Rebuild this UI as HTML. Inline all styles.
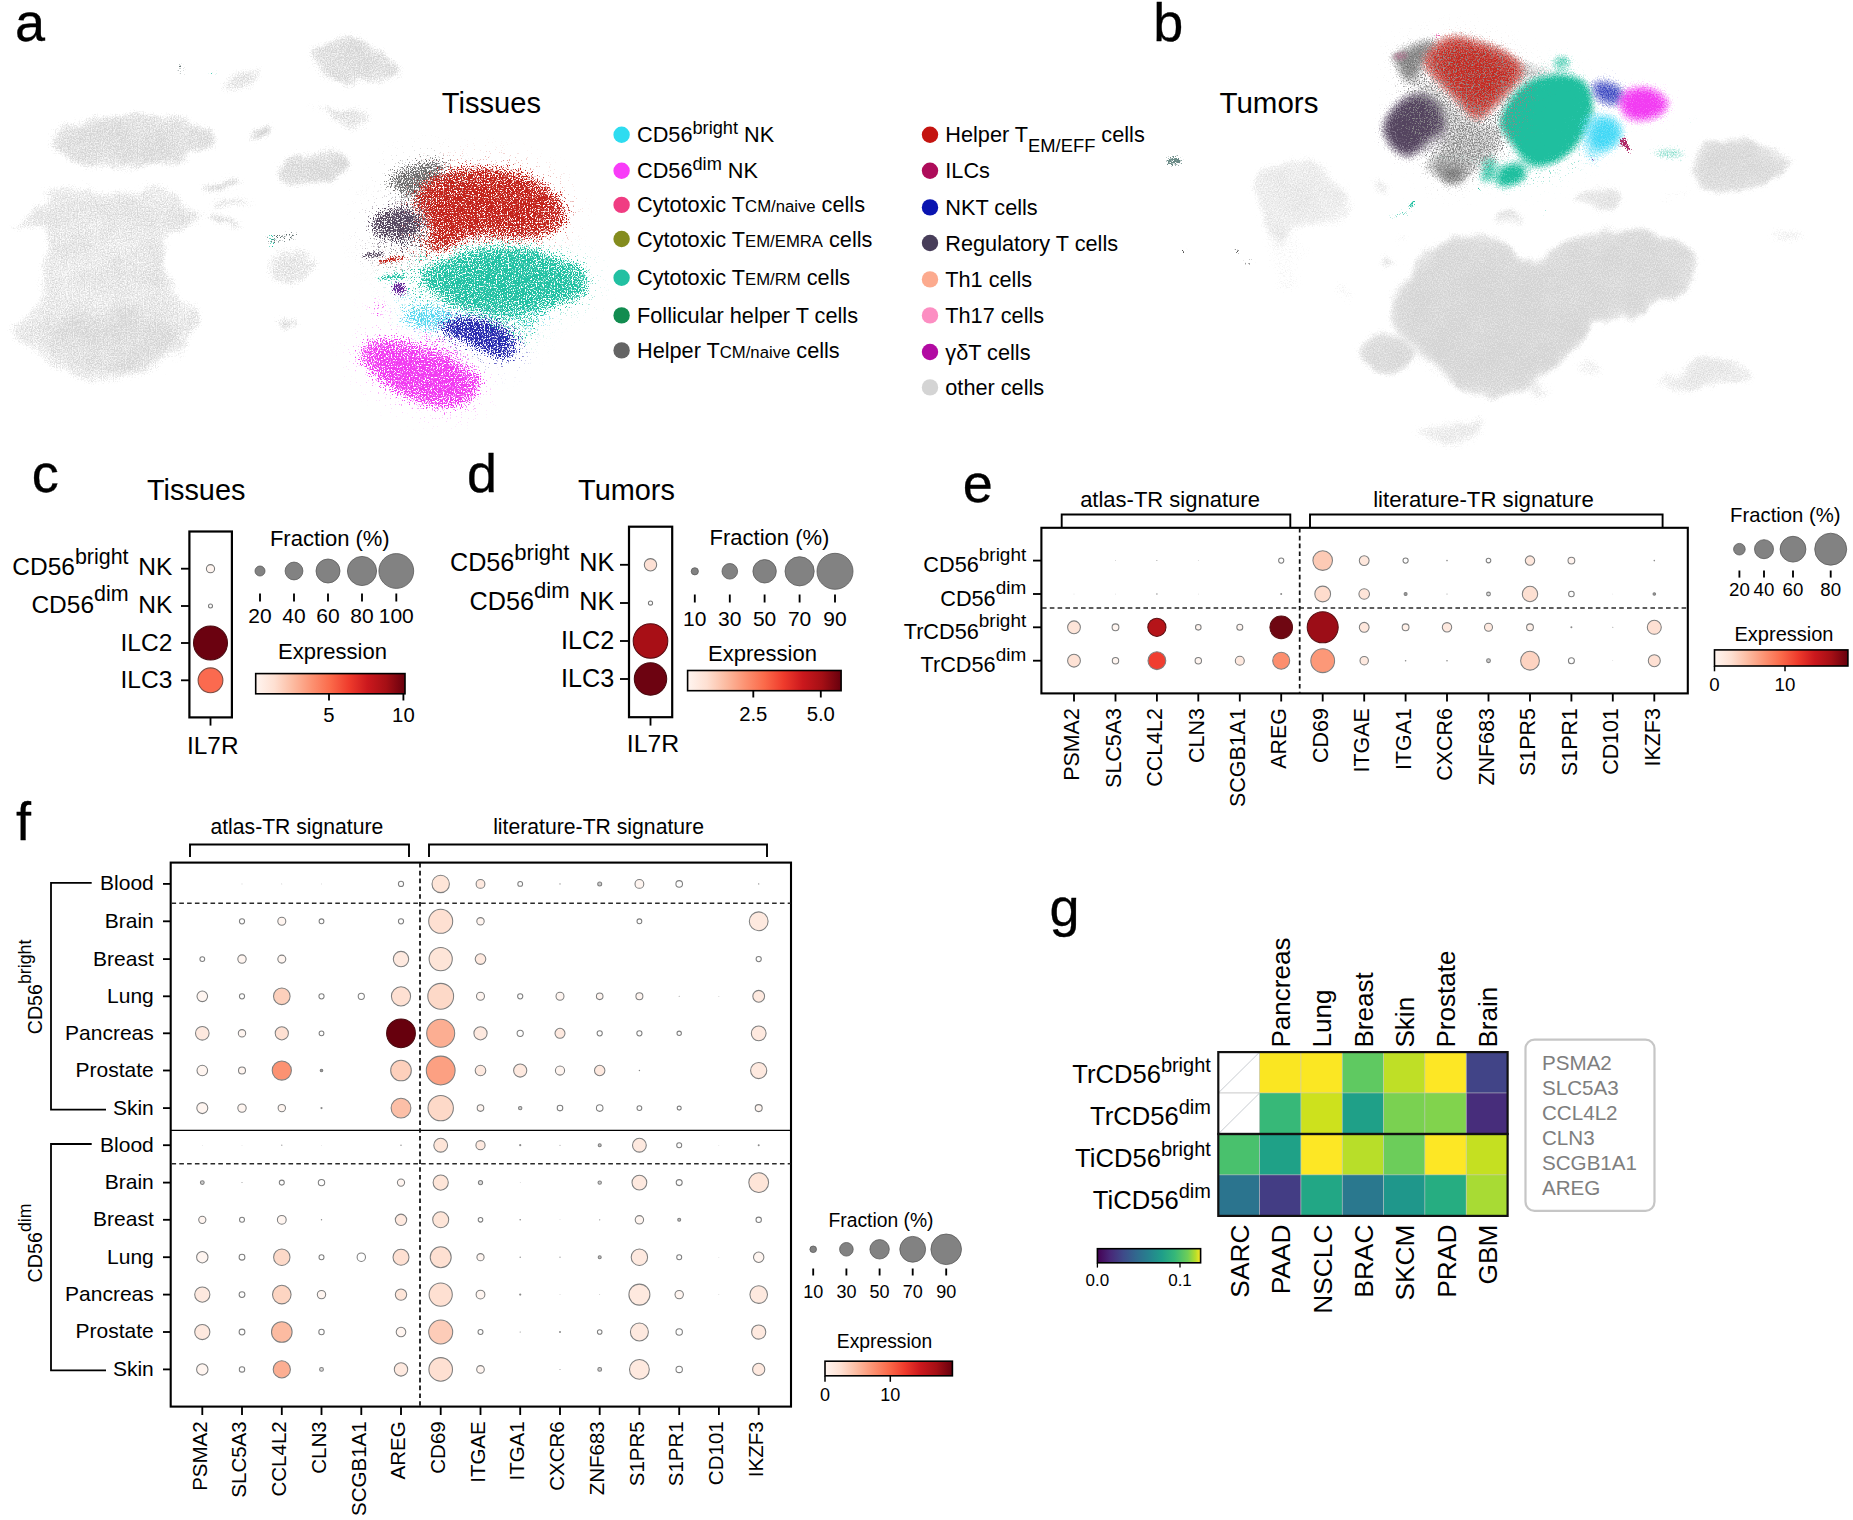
<!DOCTYPE html>
<html><head><meta charset="utf-8"><title>Figure</title>
<style>html,body{margin:0;padding:0;background:#fff}svg{display:block}text{font-family:"Liberation Sans",Arial,sans-serif}</style>
</head><body>
<svg width="1853" height="1520" viewBox="0 0 1853 1520">
<rect width="1853" height="1520" fill="#fff"/>
<text x="15" y="41.3" font-size="54" text-anchor="start" fill="#000" stroke="#000" stroke-width="0.3">a</text>
<text x="1153.3" y="41" font-size="54" text-anchor="start" fill="#000" stroke="#000" stroke-width="0.3">b</text>
<text x="31.8" y="492" font-size="54" text-anchor="start" fill="#000" stroke="#000" stroke-width="0.3">c</text>
<text x="467" y="492.3" font-size="54" text-anchor="start" fill="#000" stroke="#000" stroke-width="0.3">d</text>
<text x="962.7" y="502.2" font-size="54" text-anchor="start" fill="#000" stroke="#000" stroke-width="0.3">e</text>
<text x="16.1" y="839.6" font-size="54" text-anchor="start" fill="#000" stroke="#000" stroke-width="0.3">f</text>
<text x="1049.5" y="925.6" font-size="54" text-anchor="start" fill="#000" stroke="#000" stroke-width="0.3">g</text>
<text x="441.8" y="113" font-size="29.1" text-anchor="start" fill="#000" >Tissues</text>
<text x="1219.5" y="112.8" font-size="29.5" text-anchor="start" fill="#000" >Tumors</text>
<circle cx="621.6" cy="134.8" r="8.2" fill="#2edcf0"/>
<text x="637" y="142.3" font-size="21.7" text-anchor="start" fill="#000" >CD56<tspan font-size="84.0%" dy="-8.5">bright</tspan><tspan dy="8.5" dx="0"> NK</tspan></text>
<circle cx="621.6" cy="170.8" r="8.2" fill="#f83cf8"/>
<text x="637" y="178.3" font-size="21.7" text-anchor="start" fill="#000" >CD56<tspan font-size="84.0%" dy="-8.5">dim</tspan><tspan dy="8.5" dx="0"> NK</tspan></text>
<circle cx="621.6" cy="204.9" r="8.2" fill="#f03c82"/>
<text x="637" y="212.4" font-size="21.7" text-anchor="start" fill="#000" >Cytotoxic T<tspan font-size="77%">CM/naive</tspan> cells</text>
<circle cx="621.6" cy="239" r="8.2" fill="#848c1e"/>
<text x="637" y="246.5" font-size="21.7" text-anchor="start" fill="#000" >Cytotoxic T<tspan font-size="77%">EM/EMRA</tspan> cells</text>
<circle cx="621.6" cy="277.8" r="8.2" fill="#22c0a2"/>
<text x="637" y="285.3" font-size="21.7" text-anchor="start" fill="#000" >Cytotoxic T<tspan font-size="77%">EM/RM</tspan> cells</text>
<circle cx="621.6" cy="315.4" r="8.2" fill="#128c50"/>
<text x="637" y="322.9" font-size="21.7" text-anchor="start" fill="#000" >Follicular helper T cells</text>
<circle cx="621.6" cy="350.4" r="8.2" fill="#646464"/>
<text x="637" y="357.9" font-size="21.7" text-anchor="start" fill="#000" >Helper T<tspan font-size="77%">CM/naive</tspan> cells</text>
<circle cx="930" cy="134.8" r="8.2" fill="#c41410"/>
<text x="945.3" y="142.3" font-size="21.7" text-anchor="start" fill="#000" >Helper T<tspan font-size="84.6%" dy="9.4">EM/EFF</tspan><tspan dy="-9.4"> cells</tspan></text>
<circle cx="930" cy="170.8" r="8.2" fill="#ae0c5a"/>
<text x="945.3" y="178.3" font-size="21.7" text-anchor="start" fill="#000" >ILCs</text>
<circle cx="930" cy="207.4" r="8.2" fill="#0a14b0"/>
<text x="945.3" y="214.9" font-size="21.7" text-anchor="start" fill="#000" >NKT cells</text>
<circle cx="930" cy="243" r="8.2" fill="#483e5a"/>
<text x="945.3" y="250.5" font-size="21.7" text-anchor="start" fill="#000" >Regulatory T cells</text>
<circle cx="930" cy="279.4" r="8.2" fill="#fcaa8e"/>
<text x="945.3" y="286.9" font-size="21.7" text-anchor="start" fill="#000" >Th1 cells</text>
<circle cx="930" cy="315.4" r="8.2" fill="#fc8ec2"/>
<text x="945.3" y="322.9" font-size="21.7" text-anchor="start" fill="#000" >Th17 cells</text>
<circle cx="930" cy="352" r="8.2" fill="#b20aa2"/>
<text x="945.3" y="359.5" font-size="21.7" text-anchor="start" fill="#000" >γδT cells</text>
<circle cx="930" cy="387.4" r="8.2" fill="#d4d4d4"/>
<text x="945.3" y="394.9" font-size="21.7" text-anchor="start" fill="#000" >other cells</text>
<text x="196.2" y="499.7" font-size="28.9" text-anchor="middle" fill="#000" >Tissues</text>
<rect x="189.4" y="531.5" width="42.5" height="185.9" fill="none" stroke="#000" stroke-width="2.2"/>
<line x1="181" x2="189" y1="568.7" y2="568.7" stroke="#000" stroke-width="1.85"/>
<text x="172.3" y="575.3000000000001" font-size="24.5" text-anchor="end" fill="#000" >CD56<tspan font-size="87.5%" dy="-11.5">bright</tspan><tspan dy="11.5" dx="9.7">NK</tspan></text>
<line x1="181" x2="189" y1="606" y2="606" stroke="#000" stroke-width="1.85"/>
<text x="172.3" y="612.6" font-size="24.5" text-anchor="end" fill="#000" >CD56<tspan font-size="87.5%" dy="-11.5">dim</tspan><tspan dy="11.5" dx="9.7">NK</tspan></text>
<line x1="181" x2="189" y1="643" y2="643" stroke="#000" stroke-width="1.85"/>
<text x="172.3" y="651.0" font-size="24.5" text-anchor="end" fill="#000" >ILC2</text>
<line x1="181" x2="189" y1="680.3" y2="680.3" stroke="#000" stroke-width="1.85"/>
<text x="172.3" y="688.3" font-size="24.5" text-anchor="end" fill="#000" >ILC3</text>
<line x1="210.5" x2="210.5" y1="718" y2="725.6" stroke="#000" stroke-width="1.85"/>
<text x="212.8" y="754.3" font-size="24.4" text-anchor="middle" fill="#000" >IL7R</text>
<circle cx="210.5" cy="568.7" r="4.10" fill="#fff5f0" stroke="#787878" stroke-width="1.05"/>
<circle cx="210.5" cy="606.0" r="2.00" fill="#fff" stroke="#787878" stroke-width="1.05"/>
<circle cx="210.5" cy="643.0" r="17.00" fill="#6b0210" stroke="#4a0a10" stroke-width="1.05"/>
<circle cx="210.5" cy="680.3" r="12.40" fill="#fb6a4f" stroke="#7a4a40" stroke-width="1.05"/>
<text x="329.8" y="545.6" font-size="22" text-anchor="middle" fill="#000" >Fraction (%)</text>
<circle cx="260" cy="571" r="5.0" fill="#828282" stroke="#5a5a5a" stroke-width="0.8"/>
<line x1="260" x2="260" y1="593.5" y2="601.5" stroke="#000" stroke-width="1.85"/>
<text x="260" y="622.7" font-size="21" text-anchor="middle" fill="#000" >20</text>
<circle cx="294" cy="571" r="8.9" fill="#828282" stroke="#5a5a5a" stroke-width="0.8"/>
<line x1="294" x2="294" y1="593.5" y2="601.5" stroke="#000" stroke-width="1.85"/>
<text x="294" y="622.7" font-size="21" text-anchor="middle" fill="#000" >40</text>
<circle cx="328" cy="571" r="12" fill="#828282" stroke="#5a5a5a" stroke-width="0.8"/>
<line x1="328" x2="328" y1="593.5" y2="601.5" stroke="#000" stroke-width="1.85"/>
<text x="328" y="622.7" font-size="21" text-anchor="middle" fill="#000" >60</text>
<circle cx="362" cy="571" r="14.6" fill="#828282" stroke="#5a5a5a" stroke-width="0.8"/>
<line x1="362" x2="362" y1="593.5" y2="601.5" stroke="#000" stroke-width="1.85"/>
<text x="362" y="622.7" font-size="21" text-anchor="middle" fill="#000" >80</text>
<circle cx="396.3" cy="571" r="17.4" fill="#828282" stroke="#5a5a5a" stroke-width="0.8"/>
<line x1="396.3" x2="396.3" y1="593.5" y2="601.5" stroke="#000" stroke-width="1.85"/>
<text x="396.3" y="622.7" font-size="21" text-anchor="middle" fill="#000" >100</text>
<text x="332.5" y="658.5" font-size="22" text-anchor="middle" fill="#000" >Expression</text>
<linearGradient id="gc" x1="0" x2="1" y1="0" y2="0"><stop offset="0.0" stop-color="#fff5f0"/><stop offset="0.125" stop-color="#fee0d2"/><stop offset="0.25" stop-color="#fcbba1"/><stop offset="0.375" stop-color="#fc9272"/><stop offset="0.5" stop-color="#fb6a4a"/><stop offset="0.625" stop-color="#ef3b2c"/><stop offset="0.75" stop-color="#cb181d"/><stop offset="0.875" stop-color="#a50f15"/><stop offset="1.0" stop-color="#67000d"/></linearGradient>
<rect x="255.7" y="673.6" width="149.3" height="20.2" fill="url(#gc)" stroke="#000" stroke-width="1.6"/>
<line x1="329" x2="329" y1="694" y2="700.5" stroke="#000" stroke-width="1.85"/>
<text x="329" y="722.3" font-size="20.3" text-anchor="middle" fill="#000" >5</text>
<line x1="403.4" x2="403.4" y1="694" y2="700.5" stroke="#000" stroke-width="1.85"/>
<text x="403.4" y="722.3" font-size="20.3" text-anchor="middle" fill="#000" >10</text>
<text x="626.5" y="499.7" font-size="28.9" text-anchor="middle" fill="#000" >Tumors</text>
<rect x="629" y="526.7" width="43.2" height="190.5" fill="none" stroke="#000" stroke-width="2.2"/>
<line x1="620" x2="628.6" y1="564.8" y2="564.8" stroke="#000" stroke-width="1.85"/>
<text x="614.2" y="571.4" font-size="25.2" text-anchor="end" fill="#000" >CD56<tspan font-size="87.5%" dy="-11.5">bright</tspan><tspan dy="11.5" dx="9.7">NK</tspan></text>
<line x1="620" x2="628.6" y1="603" y2="603" stroke="#000" stroke-width="1.85"/>
<text x="614.2" y="609.6" font-size="25.2" text-anchor="end" fill="#000" >CD56<tspan font-size="87.5%" dy="-11.5">dim</tspan><tspan dy="11.5" dx="9.7">NK</tspan></text>
<line x1="620" x2="628.6" y1="641" y2="641" stroke="#000" stroke-width="1.85"/>
<text x="614.2" y="649.0" font-size="25.2" text-anchor="end" fill="#000" >ILC2</text>
<line x1="620" x2="628.6" y1="679" y2="679" stroke="#000" stroke-width="1.85"/>
<text x="614.2" y="687.0" font-size="25.2" text-anchor="end" fill="#000" >ILC3</text>
<line x1="650.5" x2="650.5" y1="718" y2="725.6" stroke="#000" stroke-width="1.85"/>
<text x="653" y="752" font-size="24.8" text-anchor="middle" fill="#000" >IL7R</text>
<circle cx="650.5" cy="564.8" r="6.20" fill="#fde0d4" stroke="#787878" stroke-width="1.05"/>
<circle cx="650.5" cy="603.0" r="2.10" fill="#fff" stroke="#787878" stroke-width="1.05"/>
<circle cx="650.5" cy="641.0" r="17.30" fill="#a80f16" stroke="#5a0a10" stroke-width="1.05"/>
<circle cx="650.5" cy="679.0" r="16.20" fill="#6d0311" stroke="#4a0a10" stroke-width="1.05"/>
<text x="769.5" y="544.7" font-size="22" text-anchor="middle" fill="#000" >Fraction (%)</text>
<circle cx="694.8" cy="571.3" r="3.6" fill="#828282" stroke="#5a5a5a" stroke-width="0.8"/>
<line x1="694.8" x2="694.8" y1="594.5" y2="602.5" stroke="#000" stroke-width="1.85"/>
<text x="694.8" y="625.7" font-size="21" text-anchor="middle" fill="#000" >10</text>
<circle cx="729.8" cy="571.3" r="7.8" fill="#828282" stroke="#5a5a5a" stroke-width="0.8"/>
<line x1="729.8" x2="729.8" y1="594.5" y2="602.5" stroke="#000" stroke-width="1.85"/>
<text x="729.8" y="625.7" font-size="21" text-anchor="middle" fill="#000" >30</text>
<circle cx="764.6" cy="571.3" r="11.7" fill="#828282" stroke="#5a5a5a" stroke-width="0.8"/>
<line x1="764.6" x2="764.6" y1="594.5" y2="602.5" stroke="#000" stroke-width="1.85"/>
<text x="764.6" y="625.7" font-size="21" text-anchor="middle" fill="#000" >50</text>
<circle cx="799.6" cy="571.3" r="14.6" fill="#828282" stroke="#5a5a5a" stroke-width="0.8"/>
<line x1="799.6" x2="799.6" y1="594.5" y2="602.5" stroke="#000" stroke-width="1.85"/>
<text x="799.6" y="625.7" font-size="21" text-anchor="middle" fill="#000" >70</text>
<circle cx="835" cy="571.3" r="18" fill="#828282" stroke="#5a5a5a" stroke-width="0.8"/>
<line x1="835" x2="835" y1="594.5" y2="602.5" stroke="#000" stroke-width="1.85"/>
<text x="835" y="625.7" font-size="21" text-anchor="middle" fill="#000" >90</text>
<text x="762.5" y="660.5" font-size="22" text-anchor="middle" fill="#000" >Expression</text>
<linearGradient id="gd" x1="0" x2="1" y1="0" y2="0"><stop offset="0.0" stop-color="#fff5f0"/><stop offset="0.125" stop-color="#fee0d2"/><stop offset="0.25" stop-color="#fcbba1"/><stop offset="0.375" stop-color="#fc9272"/><stop offset="0.5" stop-color="#fb6a4a"/><stop offset="0.625" stop-color="#ef3b2c"/><stop offset="0.75" stop-color="#cb181d"/><stop offset="0.875" stop-color="#a50f15"/><stop offset="1.0" stop-color="#67000d"/></linearGradient>
<rect x="687.6" y="670.5" width="153.5" height="20.2" fill="url(#gd)" stroke="#000" stroke-width="1.6"/>
<line x1="753.3" x2="753.3" y1="691" y2="697.5" stroke="#000" stroke-width="1.85"/>
<text x="753.3" y="721.3" font-size="20.3" text-anchor="middle" fill="#000" >2.5</text>
<line x1="820.8" x2="820.8" y1="691" y2="697.5" stroke="#000" stroke-width="1.85"/>
<text x="820.8" y="721.3" font-size="20.3" text-anchor="middle" fill="#000" >5.0</text>
<rect x="1041.4" y="527.8" width="646.4" height="165.6" fill="none" stroke="#000" stroke-width="2.1"/>
<line x1="1042" x2="1687" y1="608" y2="608" stroke="#2a2a2a" stroke-width="1.6" stroke-dasharray="4.6 3.2"/>
<line x1="1299.7" x2="1299.7" y1="528" y2="693" stroke="#111" stroke-width="1.75" stroke-dasharray="4.6 3.2"/>
<path d="M1061.7 527.5V514.5H1290.3V527.5M1310 527.5V514.5H1662.6V527.5" fill="none" stroke="#000" stroke-width="1.9"/>
<text x="1170" y="506.5" font-size="22" text-anchor="middle" fill="#000" >atlas-TR signature</text>
<text x="1483.5" y="506.5" font-size="22.2" text-anchor="middle" fill="#000" >literature-TR signature</text>
<line x1="1033" x2="1041" y1="560.6" y2="560.6" stroke="#000" stroke-width="1.85"/>
<text x="1026.2" y="572.1" font-size="21.7" text-anchor="end" fill="#000" >CD56<tspan font-size="87.3%" dy="-11.5">bright</tspan></text>
<line x1="1033" x2="1041" y1="594" y2="594" stroke="#000" stroke-width="1.85"/>
<text x="1026.2" y="605.5" font-size="21.7" text-anchor="end" fill="#000" >CD56<tspan font-size="87.3%" dy="-11.5">dim</tspan></text>
<line x1="1033" x2="1041" y1="627.3" y2="627.3" stroke="#000" stroke-width="1.85"/>
<text x="1026.2" y="638.8" font-size="21.7" text-anchor="end" fill="#000" >TrCD56<tspan font-size="87.3%" dy="-11.5">bright</tspan></text>
<line x1="1033" x2="1041" y1="660.7" y2="660.7" stroke="#000" stroke-width="1.85"/>
<text x="1026.2" y="672.2" font-size="21.7" text-anchor="end" fill="#000" >TrCD56<tspan font-size="87.3%" dy="-11.5">dim</tspan></text>
<line x1="1074.0" x2="1074.0" y1="693.5" y2="701.5" stroke="#000" stroke-width="1.85"/>
<text x="1079.3" y="708.2" font-size="21.4" text-anchor="end" fill="#000" transform="rotate(-90 1079.3 708.2)" >PSMA2</text>
<line x1="1115.5" x2="1115.5" y1="693.5" y2="701.5" stroke="#000" stroke-width="1.85"/>
<text x="1120.8" y="708.2" font-size="21.4" text-anchor="end" fill="#000" transform="rotate(-90 1120.8 708.2)" >SLC5A3</text>
<line x1="1156.9" x2="1156.9" y1="693.5" y2="701.5" stroke="#000" stroke-width="1.85"/>
<text x="1162.2" y="708.2" font-size="21.4" text-anchor="end" fill="#000" transform="rotate(-90 1162.2 708.2)" >CCL4L2</text>
<line x1="1198.3" x2="1198.3" y1="693.5" y2="701.5" stroke="#000" stroke-width="1.85"/>
<text x="1203.6" y="708.2" font-size="21.4" text-anchor="end" fill="#000" transform="rotate(-90 1203.6 708.2)" >CLN3</text>
<line x1="1239.8" x2="1239.8" y1="693.5" y2="701.5" stroke="#000" stroke-width="1.85"/>
<text x="1245.1" y="708.2" font-size="21.4" text-anchor="end" fill="#000" transform="rotate(-90 1245.1 708.2)" >SCGB1A1</text>
<line x1="1281.2" x2="1281.2" y1="693.5" y2="701.5" stroke="#000" stroke-width="1.85"/>
<text x="1286.5" y="708.2" font-size="21.4" text-anchor="end" fill="#000" transform="rotate(-90 1286.5 708.2)" >AREG</text>
<line x1="1322.7" x2="1322.7" y1="693.5" y2="701.5" stroke="#000" stroke-width="1.85"/>
<text x="1328.0" y="708.2" font-size="21.4" text-anchor="end" fill="#000" transform="rotate(-90 1328.0 708.2)" >CD69</text>
<line x1="1364.2" x2="1364.2" y1="693.5" y2="701.5" stroke="#000" stroke-width="1.85"/>
<text x="1369.5" y="708.2" font-size="21.4" text-anchor="end" fill="#000" transform="rotate(-90 1369.5 708.2)" >ITGAE</text>
<line x1="1405.6" x2="1405.6" y1="693.5" y2="701.5" stroke="#000" stroke-width="1.85"/>
<text x="1410.9" y="708.2" font-size="21.4" text-anchor="end" fill="#000" transform="rotate(-90 1410.9 708.2)" >ITGA1</text>
<line x1="1447.0" x2="1447.0" y1="693.5" y2="701.5" stroke="#000" stroke-width="1.85"/>
<text x="1452.3" y="708.2" font-size="21.4" text-anchor="end" fill="#000" transform="rotate(-90 1452.3 708.2)" >CXCR6</text>
<line x1="1488.5" x2="1488.5" y1="693.5" y2="701.5" stroke="#000" stroke-width="1.85"/>
<text x="1493.8" y="708.2" font-size="21.4" text-anchor="end" fill="#000" transform="rotate(-90 1493.8 708.2)" >ZNF683</text>
<line x1="1530.0" x2="1530.0" y1="693.5" y2="701.5" stroke="#000" stroke-width="1.85"/>
<text x="1535.2" y="708.2" font-size="21.4" text-anchor="end" fill="#000" transform="rotate(-90 1535.2 708.2)" >S1PR5</text>
<line x1="1571.4" x2="1571.4" y1="693.5" y2="701.5" stroke="#000" stroke-width="1.85"/>
<text x="1576.7" y="708.2" font-size="21.4" text-anchor="end" fill="#000" transform="rotate(-90 1576.7 708.2)" >S1PR1</text>
<line x1="1612.8" x2="1612.8" y1="693.5" y2="701.5" stroke="#000" stroke-width="1.85"/>
<text x="1618.1" y="708.2" font-size="21.4" text-anchor="end" fill="#000" transform="rotate(-90 1618.1 708.2)" >CD101</text>
<line x1="1654.3" x2="1654.3" y1="693.5" y2="701.5" stroke="#000" stroke-width="1.85"/>
<text x="1659.6" y="708.2" font-size="21.4" text-anchor="end" fill="#000" transform="rotate(-90 1659.6 708.2)" >IKZF3</text>
<circle cx="1115.5" cy="560.6" r="0.40" fill="#8a8a8a"/>
<circle cx="1156.9" cy="560.6" r="0.50" fill="#8a8a8a"/>
<circle cx="1198.3" cy="560.6" r="0.35" fill="#8a8a8a"/>
<circle cx="1281.2" cy="560.6" r="2.60" fill="#fff" stroke="#7f7f7f" stroke-width="1.05"/>
<circle cx="1322.7" cy="560.6" r="9.80" fill="#fdcab5" stroke="#7f7f7f" stroke-width="1.05"/>
<circle cx="1364.2" cy="560.6" r="4.90" fill="#fee7dc" stroke="#7f7f7f" stroke-width="1.05"/>
<circle cx="1405.6" cy="560.6" r="2.60" fill="#fff" stroke="#7f7f7f" stroke-width="1.05"/>
<circle cx="1447.0" cy="560.6" r="0.80" fill="#8a8a8a"/>
<circle cx="1488.5" cy="560.6" r="2.30" fill="#fff" stroke="#7f7f7f" stroke-width="1.05"/>
<circle cx="1530.0" cy="560.6" r="4.70" fill="#fee7dc" stroke="#7f7f7f" stroke-width="1.05"/>
<circle cx="1571.4" cy="560.6" r="3.40" fill="#fff3ee" stroke="#7f7f7f" stroke-width="1.05"/>
<circle cx="1654.3" cy="560.6" r="0.80" fill="#8a8a8a"/>
<circle cx="1074.0" cy="594.0" r="0.30" fill="#8a8a8a"/>
<circle cx="1115.5" cy="594.0" r="0.30" fill="#8a8a8a"/>
<circle cx="1156.9" cy="594.0" r="0.70" fill="#8a8a8a"/>
<circle cx="1198.3" cy="594.0" r="0.30" fill="#8a8a8a"/>
<circle cx="1281.2" cy="594.0" r="1.00" fill="#8a8a8a"/>
<circle cx="1322.7" cy="594.0" r="7.90" fill="#fedccd" stroke="#7f7f7f" stroke-width="1.05"/>
<circle cx="1364.2" cy="594.0" r="5.30" fill="#fee5d9" stroke="#7f7f7f" stroke-width="1.05"/>
<circle cx="1405.6" cy="594.0" r="1.50" fill="#999" stroke="#7f7f7f" stroke-width="1.05"/>
<circle cx="1447.0" cy="594.0" r="0.50" fill="#8a8a8a"/>
<circle cx="1488.5" cy="594.0" r="1.90" fill="#ddd" stroke="#7f7f7f" stroke-width="1.05"/>
<circle cx="1530.0" cy="594.0" r="7.70" fill="#fde0d2" stroke="#7f7f7f" stroke-width="1.05"/>
<circle cx="1571.4" cy="594.0" r="2.80" fill="#fff" stroke="#7f7f7f" stroke-width="1.05"/>
<circle cx="1612.8" cy="594.0" r="0.25" fill="#8a8a8a"/>
<circle cx="1654.3" cy="594.0" r="1.30" fill="#999" stroke="#7f7f7f" stroke-width="1.05"/>
<circle cx="1074.0" cy="627.3" r="6.40" fill="#fee5d9" stroke="#7f7f7f" stroke-width="1.05"/>
<circle cx="1115.5" cy="627.3" r="3.40" fill="#fff5f0" stroke="#7f7f7f" stroke-width="1.05"/>
<circle cx="1156.9" cy="627.3" r="9.10" fill="#b51419" stroke="#5a1014" stroke-width="1.05"/>
<circle cx="1198.3" cy="627.3" r="2.80" fill="#fff5f0" stroke="#7f7f7f" stroke-width="1.05"/>
<circle cx="1239.8" cy="627.3" r="3.00" fill="#fff5f0" stroke="#7f7f7f" stroke-width="1.05"/>
<circle cx="1281.2" cy="627.3" r="11.30" fill="#6f0712" stroke="#5a1014" stroke-width="1.05"/>
<circle cx="1322.7" cy="627.3" r="15.50" fill="#9c0d17" stroke="#5a1014" stroke-width="1.05"/>
<circle cx="1364.2" cy="627.3" r="4.90" fill="#fee7dc" stroke="#7f7f7f" stroke-width="1.05"/>
<circle cx="1405.6" cy="627.3" r="3.40" fill="#fff0e8" stroke="#7f7f7f" stroke-width="1.05"/>
<circle cx="1447.0" cy="627.3" r="4.70" fill="#fee9df" stroke="#7f7f7f" stroke-width="1.05"/>
<circle cx="1488.5" cy="627.3" r="4.00" fill="#fee9df" stroke="#7f7f7f" stroke-width="1.05"/>
<circle cx="1530.0" cy="627.3" r="3.40" fill="#fff0e8" stroke="#7f7f7f" stroke-width="1.05"/>
<circle cx="1571.4" cy="627.3" r="1.00" fill="#8a8a8a"/>
<circle cx="1612.8" cy="627.3" r="0.50" fill="#8a8a8a"/>
<circle cx="1654.3" cy="627.3" r="7.00" fill="#fee0d3" stroke="#7f7f7f" stroke-width="1.05"/>
<circle cx="1074.0" cy="660.7" r="6.40" fill="#fee2d5" stroke="#7f7f7f" stroke-width="1.05"/>
<circle cx="1115.5" cy="660.7" r="3.20" fill="#fff5f0" stroke="#7f7f7f" stroke-width="1.05"/>
<circle cx="1156.9" cy="660.7" r="8.90" fill="#f03e30" stroke="#7f7f7f" stroke-width="1.05"/>
<circle cx="1198.3" cy="660.7" r="3.20" fill="#fff5f0" stroke="#7f7f7f" stroke-width="1.05"/>
<circle cx="1239.8" cy="660.7" r="4.50" fill="#fee9df" stroke="#7f7f7f" stroke-width="1.05"/>
<circle cx="1281.2" cy="660.7" r="8.50" fill="#fc8e6e" stroke="#7f7f7f" stroke-width="1.05"/>
<circle cx="1322.7" cy="660.7" r="11.90" fill="#fc9878" stroke="#7f7f7f" stroke-width="1.05"/>
<circle cx="1364.2" cy="660.7" r="4.20" fill="#fee9df" stroke="#7f7f7f" stroke-width="1.05"/>
<circle cx="1405.6" cy="660.7" r="0.80" fill="#8a8a8a"/>
<circle cx="1447.0" cy="660.7" r="0.80" fill="#8a8a8a"/>
<circle cx="1488.5" cy="660.7" r="1.90" fill="#ccc" stroke="#7f7f7f" stroke-width="1.05"/>
<circle cx="1530.0" cy="660.7" r="9.40" fill="#fdd3c1" stroke="#7f7f7f" stroke-width="1.05"/>
<circle cx="1571.4" cy="660.7" r="3.00" fill="#fff" stroke="#7f7f7f" stroke-width="1.05"/>
<circle cx="1612.8" cy="660.7" r="0.30" fill="#8a8a8a"/>
<circle cx="1654.3" cy="660.7" r="6.00" fill="#fee0d3" stroke="#7f7f7f" stroke-width="1.05"/>
<text x="1785.3" y="522.3" font-size="20.3" text-anchor="middle" fill="#000" >Fraction (%)</text>
<circle cx="1739.4" cy="549.2" r="5.8" fill="#828282" stroke="#5a5a5a" stroke-width="0.8"/>
<line x1="1739.4" x2="1739.4" y1="570.5" y2="577.6" stroke="#000" stroke-width="1.85"/>
<text x="1739.4" y="595.5" font-size="18.7" text-anchor="middle" fill="#000" >20</text>
<circle cx="1764" cy="549.2" r="9.5" fill="#828282" stroke="#5a5a5a" stroke-width="0.8"/>
<line x1="1764" x2="1764" y1="570.5" y2="577.6" stroke="#000" stroke-width="1.85"/>
<text x="1764" y="595.5" font-size="18.7" text-anchor="middle" fill="#000" >40</text>
<circle cx="1793" cy="549.2" r="12.9" fill="#828282" stroke="#5a5a5a" stroke-width="0.8"/>
<line x1="1793" x2="1793" y1="570.5" y2="577.6" stroke="#000" stroke-width="1.85"/>
<text x="1793" y="595.5" font-size="18.7" text-anchor="middle" fill="#000" >60</text>
<circle cx="1830.7" cy="549.2" r="16.0" fill="#828282" stroke="#5a5a5a" stroke-width="0.8"/>
<line x1="1830.7" x2="1830.7" y1="570.5" y2="577.6" stroke="#000" stroke-width="1.85"/>
<text x="1830.7" y="595.5" font-size="18.7" text-anchor="middle" fill="#000" >80</text>
<text x="1784" y="641" font-size="20" text-anchor="middle" fill="#000" >Expression</text>
<linearGradient id="ge" x1="0" x2="1" y1="0" y2="0"><stop offset="0.0" stop-color="#fff5f0"/><stop offset="0.125" stop-color="#fee0d2"/><stop offset="0.25" stop-color="#fcbba1"/><stop offset="0.375" stop-color="#fc9272"/><stop offset="0.5" stop-color="#fb6a4a"/><stop offset="0.625" stop-color="#ef3b2c"/><stop offset="0.75" stop-color="#cb181d"/><stop offset="0.875" stop-color="#a50f15"/><stop offset="1.0" stop-color="#67000d"/></linearGradient>
<rect x="1714.5" y="649.9" width="133.4" height="16.1" fill="url(#ge)" stroke="#000" stroke-width="1.6"/>
<line x1="1714.5" x2="1714.5" y1="666" y2="671.3" stroke="#000" stroke-width="1.5"/>
<text x="1714.5" y="690.8" font-size="18.7" text-anchor="middle" fill="#000" >0</text>
<line x1="1785" x2="1785" y1="666" y2="671.3" stroke="#000" stroke-width="1.5"/>
<text x="1785" y="690.8" font-size="18.7" text-anchor="middle" fill="#000" >10</text>
<rect x="170.7" y="862.6" width="620.3" height="544" fill="none" stroke="#000" stroke-width="2.1"/>
<line x1="171" x2="791" y1="1130.3" y2="1130.3" stroke="#000" stroke-width="1.2"/>
<line x1="171.5" x2="790.5" y1="903.3" y2="903.3" stroke="#2a2a2a" stroke-width="1.6" stroke-dasharray="4.6 3.2"/>
<line x1="171.5" x2="790.5" y1="1163.8" y2="1163.8" stroke="#2a2a2a" stroke-width="1.6" stroke-dasharray="4.6 3.2"/>
<line x1="420" x2="420" y1="863" y2="1406.5" stroke="#111" stroke-width="1.75" stroke-dasharray="4.6 3.2"/>
<path d="M190 857V844.5H409V857M429 857V844.5H767V857" fill="none" stroke="#000" stroke-width="1.9"/>
<text x="296.85" y="834.3" font-size="21.15" text-anchor="middle" fill="#000" >atlas-TR signature</text>
<text x="598.55" y="834.3" font-size="21.2" text-anchor="middle" fill="#000" >literature-TR signature</text>
<line x1="163" x2="170.5" y1="883.9" y2="883.9" stroke="#000" stroke-width="1.85"/>
<text x="153.8" y="890.3" font-size="21" text-anchor="end" fill="#000" >Blood</text>
<line x1="163" x2="170.5" y1="921.3" y2="921.3" stroke="#000" stroke-width="1.85"/>
<text x="153.8" y="927.6999999999999" font-size="21" text-anchor="end" fill="#000" >Brain</text>
<line x1="163" x2="170.5" y1="959.1" y2="959.1" stroke="#000" stroke-width="1.85"/>
<text x="153.8" y="965.5" font-size="21" text-anchor="end" fill="#000" >Breast</text>
<line x1="163" x2="170.5" y1="996.3" y2="996.3" stroke="#000" stroke-width="1.85"/>
<text x="153.8" y="1002.6999999999999" font-size="21" text-anchor="end" fill="#000" >Lung</text>
<line x1="163" x2="170.5" y1="1033.3" y2="1033.3" stroke="#000" stroke-width="1.85"/>
<text x="153.8" y="1039.7" font-size="21" text-anchor="end" fill="#000" >Pancreas</text>
<line x1="163" x2="170.5" y1="1070.5" y2="1070.5" stroke="#000" stroke-width="1.85"/>
<text x="153.8" y="1076.9" font-size="21" text-anchor="end" fill="#000" >Prostate</text>
<line x1="163" x2="170.5" y1="1108.1" y2="1108.1" stroke="#000" stroke-width="1.85"/>
<text x="153.8" y="1114.5" font-size="21" text-anchor="end" fill="#000" >Skin</text>
<line x1="163" x2="170.5" y1="1145.2" y2="1145.2" stroke="#000" stroke-width="1.85"/>
<text x="153.8" y="1151.6000000000001" font-size="21" text-anchor="end" fill="#000" >Blood</text>
<line x1="163" x2="170.5" y1="1182.6" y2="1182.6" stroke="#000" stroke-width="1.85"/>
<text x="153.8" y="1189.0" font-size="21" text-anchor="end" fill="#000" >Brain</text>
<line x1="163" x2="170.5" y1="1219.8" y2="1219.8" stroke="#000" stroke-width="1.85"/>
<text x="153.8" y="1226.2" font-size="21" text-anchor="end" fill="#000" >Breast</text>
<line x1="163" x2="170.5" y1="1257.2" y2="1257.2" stroke="#000" stroke-width="1.85"/>
<text x="153.8" y="1263.6000000000001" font-size="21" text-anchor="end" fill="#000" >Lung</text>
<line x1="163" x2="170.5" y1="1294.6" y2="1294.6" stroke="#000" stroke-width="1.85"/>
<text x="153.8" y="1301.0" font-size="21" text-anchor="end" fill="#000" >Pancreas</text>
<line x1="163" x2="170.5" y1="1332" y2="1332" stroke="#000" stroke-width="1.85"/>
<text x="153.8" y="1338.4" font-size="21" text-anchor="end" fill="#000" >Prostate</text>
<line x1="163" x2="170.5" y1="1369.4" y2="1369.4" stroke="#000" stroke-width="1.85"/>
<text x="153.8" y="1375.8000000000002" font-size="21" text-anchor="end" fill="#000" >Skin</text>
<path d="M91.7 882.8H51V1109.6H106M91.7 1144H51V1370.4H106" fill="none" stroke="#000" stroke-width="1.8"/>
<text x="41.7" y="987" font-size="19.7" text-anchor="middle" fill="#000" transform="rotate(-90 41.7 987)" >CD56<tspan font-size="90.0%" dy="-10.7">bright</tspan></text>
<text x="41.7" y="1243" font-size="19.7" text-anchor="middle" fill="#000" transform="rotate(-90 41.7 1243)" >CD56<tspan font-size="90.0%" dy="-10.7">dim</tspan></text>
<line x1="202.3" x2="202.3" y1="1407" y2="1415" stroke="#000" stroke-width="1.85"/>
<text x="206.6" y="1421.3" font-size="20.5" text-anchor="end" fill="#000" transform="rotate(-90 206.6 1421.3)" >PSMA2</text>
<line x1="242.0" x2="242.0" y1="1407" y2="1415" stroke="#000" stroke-width="1.85"/>
<text x="246.3" y="1421.3" font-size="20.5" text-anchor="end" fill="#000" transform="rotate(-90 246.3 1421.3)" >SLC5A3</text>
<line x1="281.8" x2="281.8" y1="1407" y2="1415" stroke="#000" stroke-width="1.85"/>
<text x="286.1" y="1421.3" font-size="20.5" text-anchor="end" fill="#000" transform="rotate(-90 286.1 1421.3)" >CCL4L2</text>
<line x1="321.5" x2="321.5" y1="1407" y2="1415" stroke="#000" stroke-width="1.85"/>
<text x="325.8" y="1421.3" font-size="20.5" text-anchor="end" fill="#000" transform="rotate(-90 325.8 1421.3)" >CLN3</text>
<line x1="361.3" x2="361.3" y1="1407" y2="1415" stroke="#000" stroke-width="1.85"/>
<text x="365.6" y="1421.3" font-size="20.5" text-anchor="end" fill="#000" transform="rotate(-90 365.6 1421.3)" >SCGB1A1</text>
<line x1="401.0" x2="401.0" y1="1407" y2="1415" stroke="#000" stroke-width="1.85"/>
<text x="405.3" y="1421.3" font-size="20.5" text-anchor="end" fill="#000" transform="rotate(-90 405.3 1421.3)" >AREG</text>
<line x1="440.7" x2="440.7" y1="1407" y2="1415" stroke="#000" stroke-width="1.85"/>
<text x="445.0" y="1421.3" font-size="20.5" text-anchor="end" fill="#000" transform="rotate(-90 445.0 1421.3)" >CD69</text>
<line x1="480.5" x2="480.5" y1="1407" y2="1415" stroke="#000" stroke-width="1.85"/>
<text x="484.8" y="1421.3" font-size="20.5" text-anchor="end" fill="#000" transform="rotate(-90 484.8 1421.3)" >ITGAE</text>
<line x1="520.2" x2="520.2" y1="1407" y2="1415" stroke="#000" stroke-width="1.85"/>
<text x="524.5" y="1421.3" font-size="20.5" text-anchor="end" fill="#000" transform="rotate(-90 524.5 1421.3)" >ITGA1</text>
<line x1="560.0" x2="560.0" y1="1407" y2="1415" stroke="#000" stroke-width="1.85"/>
<text x="564.3" y="1421.3" font-size="20.5" text-anchor="end" fill="#000" transform="rotate(-90 564.3 1421.3)" >CXCR6</text>
<line x1="599.7" x2="599.7" y1="1407" y2="1415" stroke="#000" stroke-width="1.85"/>
<text x="604.0" y="1421.3" font-size="20.5" text-anchor="end" fill="#000" transform="rotate(-90 604.0 1421.3)" >ZNF683</text>
<line x1="639.4" x2="639.4" y1="1407" y2="1415" stroke="#000" stroke-width="1.85"/>
<text x="643.7" y="1421.3" font-size="20.5" text-anchor="end" fill="#000" transform="rotate(-90 643.7 1421.3)" >S1PR5</text>
<line x1="679.2" x2="679.2" y1="1407" y2="1415" stroke="#000" stroke-width="1.85"/>
<text x="683.5" y="1421.3" font-size="20.5" text-anchor="end" fill="#000" transform="rotate(-90 683.5 1421.3)" >S1PR1</text>
<line x1="718.9" x2="718.9" y1="1407" y2="1415" stroke="#000" stroke-width="1.85"/>
<text x="723.2" y="1421.3" font-size="20.5" text-anchor="end" fill="#000" transform="rotate(-90 723.2 1421.3)" >CD101</text>
<line x1="758.7" x2="758.7" y1="1407" y2="1415" stroke="#000" stroke-width="1.85"/>
<text x="763.0" y="1421.3" font-size="20.5" text-anchor="end" fill="#000" transform="rotate(-90 763.0 1421.3)" >IKZF3</text>
<circle cx="242.0" cy="883.9" r="0.40" fill="#8a8a8a"/>
<circle cx="281.8" cy="883.9" r="0.40" fill="#8a8a8a"/>
<circle cx="321.5" cy="883.9" r="0.30" fill="#8a8a8a"/>
<circle cx="401.0" cy="883.9" r="2.60" fill="#fff" stroke="#7f7f7f" stroke-width="1.05"/>
<circle cx="440.7" cy="883.9" r="8.70" fill="#fee5d8" stroke="#7f7f7f" stroke-width="1.05"/>
<circle cx="480.5" cy="883.9" r="4.40" fill="#fee9df" stroke="#7f7f7f" stroke-width="1.05"/>
<circle cx="520.2" cy="883.9" r="2.40" fill="#fff" stroke="#7f7f7f" stroke-width="1.05"/>
<circle cx="560.0" cy="883.9" r="0.70" fill="#8a8a8a"/>
<circle cx="599.7" cy="883.9" r="2.00" fill="#ccc" stroke="#7f7f7f" stroke-width="1.05"/>
<circle cx="639.4" cy="883.9" r="4.40" fill="#fff5f0" stroke="#7f7f7f" stroke-width="1.05"/>
<circle cx="679.2" cy="883.9" r="3.30" fill="#fff" stroke="#7f7f7f" stroke-width="1.05"/>
<circle cx="758.7" cy="883.9" r="0.70" fill="#8a8a8a"/>
<circle cx="242.0" cy="921.3" r="2.60" fill="#fff" stroke="#7f7f7f" stroke-width="1.05"/>
<circle cx="281.8" cy="921.3" r="4.00" fill="#fff5f0" stroke="#7f7f7f" stroke-width="1.05"/>
<circle cx="321.5" cy="921.3" r="2.40" fill="#fff" stroke="#7f7f7f" stroke-width="1.05"/>
<circle cx="401.0" cy="921.3" r="2.60" fill="#fff" stroke="#7f7f7f" stroke-width="1.05"/>
<circle cx="440.7" cy="921.3" r="12.00" fill="#fee0d2" stroke="#7f7f7f" stroke-width="1.05"/>
<circle cx="480.5" cy="921.3" r="3.70" fill="#fff5f0" stroke="#7f7f7f" stroke-width="1.05"/>
<circle cx="639.4" cy="921.3" r="2.40" fill="#fff" stroke="#7f7f7f" stroke-width="1.05"/>
<circle cx="758.7" cy="921.3" r="9.40" fill="#fee9df" stroke="#7f7f7f" stroke-width="1.05"/>
<circle cx="202.3" cy="959.1" r="2.40" fill="#fff" stroke="#7f7f7f" stroke-width="1.05"/>
<circle cx="242.0" cy="959.1" r="4.20" fill="#fff5f0" stroke="#7f7f7f" stroke-width="1.05"/>
<circle cx="281.8" cy="959.1" r="4.00" fill="#fff5f0" stroke="#7f7f7f" stroke-width="1.05"/>
<circle cx="401.0" cy="959.1" r="7.70" fill="#fee9df" stroke="#7f7f7f" stroke-width="1.05"/>
<circle cx="440.7" cy="959.1" r="11.60" fill="#fee5d8" stroke="#7f7f7f" stroke-width="1.05"/>
<circle cx="480.5" cy="959.1" r="5.30" fill="#fee9df" stroke="#7f7f7f" stroke-width="1.05"/>
<circle cx="758.7" cy="959.1" r="2.60" fill="#fff" stroke="#7f7f7f" stroke-width="1.05"/>
<circle cx="202.3" cy="996.3" r="5.30" fill="#fff5f0" stroke="#7f7f7f" stroke-width="1.05"/>
<circle cx="242.0" cy="996.3" r="2.60" fill="#fff" stroke="#7f7f7f" stroke-width="1.05"/>
<circle cx="281.8" cy="996.3" r="8.30" fill="#fdd0bc" stroke="#7f7f7f" stroke-width="1.05"/>
<circle cx="321.5" cy="996.3" r="2.60" fill="#fff" stroke="#7f7f7f" stroke-width="1.05"/>
<circle cx="361.3" cy="996.3" r="3.10" fill="#fff" stroke="#7f7f7f" stroke-width="1.05"/>
<circle cx="401.0" cy="996.3" r="9.60" fill="#fee0d2" stroke="#7f7f7f" stroke-width="1.05"/>
<circle cx="440.7" cy="996.3" r="12.90" fill="#fdd9c8" stroke="#7f7f7f" stroke-width="1.05"/>
<circle cx="480.5" cy="996.3" r="4.00" fill="#fff5f0" stroke="#7f7f7f" stroke-width="1.05"/>
<circle cx="520.2" cy="996.3" r="2.60" fill="#fff" stroke="#7f7f7f" stroke-width="1.05"/>
<circle cx="560.0" cy="996.3" r="4.00" fill="#fff5f0" stroke="#7f7f7f" stroke-width="1.05"/>
<circle cx="599.7" cy="996.3" r="3.30" fill="#fff5f0" stroke="#7f7f7f" stroke-width="1.05"/>
<circle cx="639.4" cy="996.3" r="3.50" fill="#fff5f0" stroke="#7f7f7f" stroke-width="1.05"/>
<circle cx="679.2" cy="996.3" r="0.50" fill="#8a8a8a"/>
<circle cx="718.9" cy="996.3" r="0.40" fill="#8a8a8a"/>
<circle cx="758.7" cy="996.3" r="5.90" fill="#fee9df" stroke="#7f7f7f" stroke-width="1.05"/>
<circle cx="202.3" cy="1033.3" r="6.80" fill="#fee9df" stroke="#7f7f7f" stroke-width="1.05"/>
<circle cx="242.0" cy="1033.3" r="3.70" fill="#fff5f0" stroke="#7f7f7f" stroke-width="1.05"/>
<circle cx="281.8" cy="1033.3" r="6.60" fill="#fee0d2" stroke="#7f7f7f" stroke-width="1.05"/>
<circle cx="321.5" cy="1033.3" r="2.40" fill="#fff" stroke="#7f7f7f" stroke-width="1.05"/>
<circle cx="401.0" cy="1033.3" r="14.40" fill="#67000d" stroke="#4a0a10" stroke-width="1.05"/>
<circle cx="440.7" cy="1033.3" r="14.00" fill="#fcae92" stroke="#7f7f7f" stroke-width="1.05"/>
<circle cx="480.5" cy="1033.3" r="6.60" fill="#fee9df" stroke="#7f7f7f" stroke-width="1.05"/>
<circle cx="520.2" cy="1033.3" r="3.10" fill="#fff" stroke="#7f7f7f" stroke-width="1.05"/>
<circle cx="560.0" cy="1033.3" r="5.00" fill="#fee9df" stroke="#7f7f7f" stroke-width="1.05"/>
<circle cx="599.7" cy="1033.3" r="2.60" fill="#fff" stroke="#7f7f7f" stroke-width="1.05"/>
<circle cx="639.4" cy="1033.3" r="2.60" fill="#fff" stroke="#7f7f7f" stroke-width="1.05"/>
<circle cx="679.2" cy="1033.3" r="2.20" fill="#fff" stroke="#7f7f7f" stroke-width="1.05"/>
<circle cx="758.7" cy="1033.3" r="7.40" fill="#fee9df" stroke="#7f7f7f" stroke-width="1.05"/>
<circle cx="202.3" cy="1070.5" r="5.30" fill="#fff5f0" stroke="#7f7f7f" stroke-width="1.05"/>
<circle cx="242.0" cy="1070.5" r="3.50" fill="#fff5f0" stroke="#7f7f7f" stroke-width="1.05"/>
<circle cx="281.8" cy="1070.5" r="9.60" fill="#fc9272" stroke="#7f7f7f" stroke-width="1.05"/>
<circle cx="321.5" cy="1070.5" r="1.30" fill="#999" stroke="#7f7f7f" stroke-width="1.05"/>
<circle cx="401.0" cy="1070.5" r="10.30" fill="#fdd0bc" stroke="#7f7f7f" stroke-width="1.05"/>
<circle cx="440.7" cy="1070.5" r="14.40" fill="#fca082" stroke="#7f7f7f" stroke-width="1.05"/>
<circle cx="480.5" cy="1070.5" r="5.30" fill="#fee9df" stroke="#7f7f7f" stroke-width="1.05"/>
<circle cx="520.2" cy="1070.5" r="6.60" fill="#fee9df" stroke="#7f7f7f" stroke-width="1.05"/>
<circle cx="560.0" cy="1070.5" r="4.60" fill="#fff5f0" stroke="#7f7f7f" stroke-width="1.05"/>
<circle cx="599.7" cy="1070.5" r="5.20" fill="#fee9df" stroke="#7f7f7f" stroke-width="1.05"/>
<circle cx="639.4" cy="1070.5" r="0.70" fill="#8a8a8a"/>
<circle cx="758.7" cy="1070.5" r="8.10" fill="#fee9df" stroke="#7f7f7f" stroke-width="1.05"/>
<circle cx="202.3" cy="1108.1" r="5.50" fill="#fff5f0" stroke="#7f7f7f" stroke-width="1.05"/>
<circle cx="242.0" cy="1108.1" r="4.20" fill="#fff5f0" stroke="#7f7f7f" stroke-width="1.05"/>
<circle cx="281.8" cy="1108.1" r="3.70" fill="#fff5f0" stroke="#7f7f7f" stroke-width="1.05"/>
<circle cx="321.5" cy="1108.1" r="1.10" fill="#8a8a8a"/>
<circle cx="401.0" cy="1108.1" r="9.90" fill="#fcbfa7" stroke="#7f7f7f" stroke-width="1.05"/>
<circle cx="440.7" cy="1108.1" r="12.70" fill="#fdd9c8" stroke="#7f7f7f" stroke-width="1.05"/>
<circle cx="480.5" cy="1108.1" r="3.30" fill="#fff5f0" stroke="#7f7f7f" stroke-width="1.05"/>
<circle cx="520.2" cy="1108.1" r="1.70" fill="#ccc" stroke="#7f7f7f" stroke-width="1.05"/>
<circle cx="560.0" cy="1108.1" r="2.80" fill="#fff" stroke="#7f7f7f" stroke-width="1.05"/>
<circle cx="599.7" cy="1108.1" r="3.30" fill="#fff" stroke="#7f7f7f" stroke-width="1.05"/>
<circle cx="639.4" cy="1108.1" r="2.40" fill="#fff" stroke="#7f7f7f" stroke-width="1.05"/>
<circle cx="679.2" cy="1108.1" r="2.00" fill="#fff" stroke="#7f7f7f" stroke-width="1.05"/>
<circle cx="758.7" cy="1108.1" r="3.50" fill="#fff5f0" stroke="#7f7f7f" stroke-width="1.05"/>
<circle cx="202.3" cy="1145.2" r="0.25" fill="#8a8a8a"/>
<circle cx="242.0" cy="1145.2" r="0.25" fill="#8a8a8a"/>
<circle cx="281.8" cy="1145.2" r="0.60" fill="#8a8a8a"/>
<circle cx="321.5" cy="1145.2" r="0.25" fill="#8a8a8a"/>
<circle cx="401.0" cy="1145.2" r="0.70" fill="#8a8a8a"/>
<circle cx="440.7" cy="1145.2" r="6.90" fill="#fee5d8" stroke="#7f7f7f" stroke-width="1.05"/>
<circle cx="480.5" cy="1145.2" r="4.60" fill="#fee9df" stroke="#7f7f7f" stroke-width="1.05"/>
<circle cx="520.2" cy="1145.2" r="1.10" fill="#8a8a8a"/>
<circle cx="560.0" cy="1145.2" r="0.50" fill="#8a8a8a"/>
<circle cx="599.7" cy="1145.2" r="1.50" fill="#bbb" stroke="#7f7f7f" stroke-width="1.05"/>
<circle cx="639.4" cy="1145.2" r="6.90" fill="#fee9df" stroke="#7f7f7f" stroke-width="1.05"/>
<circle cx="679.2" cy="1145.2" r="2.50" fill="#fff" stroke="#7f7f7f" stroke-width="1.05"/>
<circle cx="718.9" cy="1145.2" r="0.25" fill="#8a8a8a"/>
<circle cx="758.7" cy="1145.2" r="1.00" fill="#8a8a8a"/>
<circle cx="202.3" cy="1182.6" r="1.90" fill="#ccc" stroke="#7f7f7f" stroke-width="1.05"/>
<circle cx="242.0" cy="1182.6" r="0.50" fill="#8a8a8a"/>
<circle cx="281.8" cy="1182.6" r="2.50" fill="#fff" stroke="#7f7f7f" stroke-width="1.05"/>
<circle cx="321.5" cy="1182.6" r="3.20" fill="#fff" stroke="#7f7f7f" stroke-width="1.05"/>
<circle cx="401.0" cy="1182.6" r="3.60" fill="#fff5f0" stroke="#7f7f7f" stroke-width="1.05"/>
<circle cx="440.7" cy="1182.6" r="7.60" fill="#fee5d8" stroke="#7f7f7f" stroke-width="1.05"/>
<circle cx="480.5" cy="1182.6" r="2.10" fill="#ddd" stroke="#7f7f7f" stroke-width="1.05"/>
<circle cx="520.2" cy="1182.6" r="0.30" fill="#8a8a8a"/>
<circle cx="599.7" cy="1182.6" r="1.70" fill="#ccc" stroke="#7f7f7f" stroke-width="1.05"/>
<circle cx="639.4" cy="1182.6" r="7.40" fill="#fee9df" stroke="#7f7f7f" stroke-width="1.05"/>
<circle cx="679.2" cy="1182.6" r="3.00" fill="#fff" stroke="#7f7f7f" stroke-width="1.05"/>
<circle cx="758.7" cy="1182.6" r="9.90" fill="#fee5d8" stroke="#7f7f7f" stroke-width="1.05"/>
<circle cx="202.3" cy="1219.8" r="3.60" fill="#fff5f0" stroke="#7f7f7f" stroke-width="1.05"/>
<circle cx="242.0" cy="1219.8" r="2.50" fill="#fff" stroke="#7f7f7f" stroke-width="1.05"/>
<circle cx="281.8" cy="1219.8" r="4.40" fill="#fff5f0" stroke="#7f7f7f" stroke-width="1.05"/>
<circle cx="321.5" cy="1219.8" r="0.70" fill="#8a8a8a"/>
<circle cx="401.0" cy="1219.8" r="5.70" fill="#fee9df" stroke="#7f7f7f" stroke-width="1.05"/>
<circle cx="440.7" cy="1219.8" r="8.00" fill="#fee5d8" stroke="#7f7f7f" stroke-width="1.05"/>
<circle cx="480.5" cy="1219.8" r="2.30" fill="#fff" stroke="#7f7f7f" stroke-width="1.05"/>
<circle cx="520.2" cy="1219.8" r="0.80" fill="#8a8a8a"/>
<circle cx="560.0" cy="1219.8" r="0.30" fill="#8a8a8a"/>
<circle cx="599.7" cy="1219.8" r="0.60" fill="#8a8a8a"/>
<circle cx="639.4" cy="1219.8" r="4.20" fill="#fff5f0" stroke="#7f7f7f" stroke-width="1.05"/>
<circle cx="679.2" cy="1219.8" r="1.50" fill="#bbb" stroke="#7f7f7f" stroke-width="1.05"/>
<circle cx="758.7" cy="1219.8" r="2.70" fill="#fff" stroke="#7f7f7f" stroke-width="1.05"/>
<circle cx="202.3" cy="1257.2" r="5.70" fill="#fff5f0" stroke="#7f7f7f" stroke-width="1.05"/>
<circle cx="242.0" cy="1257.2" r="2.90" fill="#fff" stroke="#7f7f7f" stroke-width="1.05"/>
<circle cx="281.8" cy="1257.2" r="8.20" fill="#fdd9c8" stroke="#7f7f7f" stroke-width="1.05"/>
<circle cx="321.5" cy="1257.2" r="2.50" fill="#fff" stroke="#7f7f7f" stroke-width="1.05"/>
<circle cx="361.3" cy="1257.2" r="4.20" fill="#fff" stroke="#7f7f7f" stroke-width="1.05"/>
<circle cx="401.0" cy="1257.2" r="8.00" fill="#fee0d2" stroke="#7f7f7f" stroke-width="1.05"/>
<circle cx="440.7" cy="1257.2" r="10.50" fill="#fee0d2" stroke="#7f7f7f" stroke-width="1.05"/>
<circle cx="480.5" cy="1257.2" r="3.60" fill="#fff5f0" stroke="#7f7f7f" stroke-width="1.05"/>
<circle cx="520.2" cy="1257.2" r="0.70" fill="#8a8a8a"/>
<circle cx="560.0" cy="1257.2" r="0.60" fill="#8a8a8a"/>
<circle cx="599.7" cy="1257.2" r="1.50" fill="#bbb" stroke="#7f7f7f" stroke-width="1.05"/>
<circle cx="639.4" cy="1257.2" r="8.20" fill="#fee9df" stroke="#7f7f7f" stroke-width="1.05"/>
<circle cx="679.2" cy="1257.2" r="2.50" fill="#fff" stroke="#7f7f7f" stroke-width="1.05"/>
<circle cx="718.9" cy="1257.2" r="0.30" fill="#8a8a8a"/>
<circle cx="758.7" cy="1257.2" r="5.20" fill="#fff5f0" stroke="#7f7f7f" stroke-width="1.05"/>
<circle cx="202.3" cy="1294.6" r="7.60" fill="#fee9df" stroke="#7f7f7f" stroke-width="1.05"/>
<circle cx="242.0" cy="1294.6" r="2.90" fill="#fff" stroke="#7f7f7f" stroke-width="1.05"/>
<circle cx="281.8" cy="1294.6" r="9.30" fill="#fdd5c2" stroke="#7f7f7f" stroke-width="1.05"/>
<circle cx="321.5" cy="1294.6" r="4.20" fill="#fff5f0" stroke="#7f7f7f" stroke-width="1.05"/>
<circle cx="401.0" cy="1294.6" r="5.70" fill="#fee5d8" stroke="#7f7f7f" stroke-width="1.05"/>
<circle cx="440.7" cy="1294.6" r="11.60" fill="#fee0d2" stroke="#7f7f7f" stroke-width="1.05"/>
<circle cx="480.5" cy="1294.6" r="4.40" fill="#fff5f0" stroke="#7f7f7f" stroke-width="1.05"/>
<circle cx="520.2" cy="1294.6" r="1.10" fill="#8a8a8a"/>
<circle cx="560.0" cy="1294.6" r="0.30" fill="#8a8a8a"/>
<circle cx="599.7" cy="1294.6" r="0.40" fill="#8a8a8a"/>
<circle cx="639.4" cy="1294.6" r="10.50" fill="#fee9df" stroke="#7f7f7f" stroke-width="1.05"/>
<circle cx="679.2" cy="1294.6" r="4.20" fill="#fff5f0" stroke="#7f7f7f" stroke-width="1.05"/>
<circle cx="718.9" cy="1294.6" r="0.30" fill="#8a8a8a"/>
<circle cx="758.7" cy="1294.6" r="8.80" fill="#fee9df" stroke="#7f7f7f" stroke-width="1.05"/>
<circle cx="202.3" cy="1332.0" r="7.60" fill="#fee9df" stroke="#7f7f7f" stroke-width="1.05"/>
<circle cx="242.0" cy="1332.0" r="2.90" fill="#fff" stroke="#7f7f7f" stroke-width="1.05"/>
<circle cx="281.8" cy="1332.0" r="10.30" fill="#fcbba1" stroke="#7f7f7f" stroke-width="1.05"/>
<circle cx="321.5" cy="1332.0" r="2.70" fill="#fff" stroke="#7f7f7f" stroke-width="1.05"/>
<circle cx="401.0" cy="1332.0" r="4.80" fill="#fff5f0" stroke="#7f7f7f" stroke-width="1.05"/>
<circle cx="440.7" cy="1332.0" r="12.00" fill="#fdccb8" stroke="#7f7f7f" stroke-width="1.05"/>
<circle cx="480.5" cy="1332.0" r="2.50" fill="#fff" stroke="#7f7f7f" stroke-width="1.05"/>
<circle cx="520.2" cy="1332.0" r="0.60" fill="#8a8a8a"/>
<circle cx="560.0" cy="1332.0" r="1.00" fill="#8a8a8a"/>
<circle cx="599.7" cy="1332.0" r="2.30" fill="#fff" stroke="#7f7f7f" stroke-width="1.05"/>
<circle cx="639.4" cy="1332.0" r="9.00" fill="#fee9df" stroke="#7f7f7f" stroke-width="1.05"/>
<circle cx="679.2" cy="1332.0" r="3.20" fill="#fff" stroke="#7f7f7f" stroke-width="1.05"/>
<circle cx="758.7" cy="1332.0" r="7.10" fill="#fee9df" stroke="#7f7f7f" stroke-width="1.05"/>
<circle cx="202.3" cy="1369.4" r="5.70" fill="#fff5f0" stroke="#7f7f7f" stroke-width="1.05"/>
<circle cx="242.0" cy="1369.4" r="2.70" fill="#fff" stroke="#7f7f7f" stroke-width="1.05"/>
<circle cx="281.8" cy="1369.4" r="8.60" fill="#fcae92" stroke="#7f7f7f" stroke-width="1.05"/>
<circle cx="321.5" cy="1369.4" r="1.90" fill="#ddd" stroke="#7f7f7f" stroke-width="1.05"/>
<circle cx="401.0" cy="1369.4" r="6.70" fill="#fee9df" stroke="#7f7f7f" stroke-width="1.05"/>
<circle cx="440.7" cy="1369.4" r="11.80" fill="#fee0d2" stroke="#7f7f7f" stroke-width="1.05"/>
<circle cx="480.5" cy="1369.4" r="3.80" fill="#fff5f0" stroke="#7f7f7f" stroke-width="1.05"/>
<circle cx="560.0" cy="1369.4" r="0.50" fill="#8a8a8a"/>
<circle cx="599.7" cy="1369.4" r="1.90" fill="#ccc" stroke="#7f7f7f" stroke-width="1.05"/>
<circle cx="639.4" cy="1369.4" r="9.90" fill="#fee9df" stroke="#7f7f7f" stroke-width="1.05"/>
<circle cx="679.2" cy="1369.4" r="3.20" fill="#fff" stroke="#7f7f7f" stroke-width="1.05"/>
<circle cx="758.7" cy="1369.4" r="6.10" fill="#fee9df" stroke="#7f7f7f" stroke-width="1.05"/>
<text x="881" y="1227" font-size="19.3" text-anchor="middle" fill="#000" >Fraction (%)</text>
<circle cx="813.2" cy="1249.3" r="3.3" fill="#828282" stroke="#5a5a5a" stroke-width="0.8"/>
<line x1="813.2" x2="813.2" y1="1268.5" y2="1275.5" stroke="#000" stroke-width="1.85"/>
<text x="813.2" y="1297.8" font-size="18" text-anchor="middle" fill="#000" >10</text>
<circle cx="846.4" cy="1249.3" r="6.8" fill="#828282" stroke="#5a5a5a" stroke-width="0.8"/>
<line x1="846.4" x2="846.4" y1="1268.5" y2="1275.5" stroke="#000" stroke-width="1.85"/>
<text x="846.4" y="1297.8" font-size="18" text-anchor="middle" fill="#000" >30</text>
<circle cx="879.6" cy="1249.3" r="9.7" fill="#828282" stroke="#5a5a5a" stroke-width="0.8"/>
<line x1="879.6" x2="879.6" y1="1268.5" y2="1275.5" stroke="#000" stroke-width="1.85"/>
<text x="879.6" y="1297.8" font-size="18" text-anchor="middle" fill="#000" >50</text>
<circle cx="912.7" cy="1249.3" r="12.9" fill="#828282" stroke="#5a5a5a" stroke-width="0.8"/>
<line x1="912.7" x2="912.7" y1="1268.5" y2="1275.5" stroke="#000" stroke-width="1.85"/>
<text x="912.7" y="1297.8" font-size="18" text-anchor="middle" fill="#000" >70</text>
<circle cx="946.2" cy="1249.3" r="15.3" fill="#828282" stroke="#5a5a5a" stroke-width="0.8"/>
<line x1="946.2" x2="946.2" y1="1268.5" y2="1275.5" stroke="#000" stroke-width="1.85"/>
<text x="946.2" y="1297.8" font-size="18" text-anchor="middle" fill="#000" >90</text>
<text x="884.5" y="1347.5" font-size="19.3" text-anchor="middle" fill="#000" >Expression</text>
<linearGradient id="gf" x1="0" x2="1" y1="0" y2="0"><stop offset="0.0" stop-color="#fff5f0"/><stop offset="0.125" stop-color="#fee0d2"/><stop offset="0.25" stop-color="#fcbba1"/><stop offset="0.375" stop-color="#fc9272"/><stop offset="0.5" stop-color="#fb6a4a"/><stop offset="0.625" stop-color="#ef3b2c"/><stop offset="0.75" stop-color="#cb181d"/><stop offset="0.875" stop-color="#a50f15"/><stop offset="1.0" stop-color="#67000d"/></linearGradient>
<rect x="825" y="1361.2" width="127.4" height="14.6" fill="url(#gf)" stroke="#000" stroke-width="1.6"/>
<line x1="825" x2="825" y1="1376" y2="1381.8" stroke="#000" stroke-width="1.5"/>
<text x="825" y="1400.5" font-size="18" text-anchor="middle" fill="#000" >0</text>
<line x1="890.3" x2="890.3" y1="1376" y2="1381.8" stroke="#000" stroke-width="1.5"/>
<text x="890.3" y="1400.5" font-size="18" text-anchor="middle" fill="#000" >10</text>
<rect x="1218.3" y="1052.1" width="41.33" height="40.95" fill="#fff" stroke="#c8c8c8" stroke-width="0.8"/>
<line x1="1218.3" y1="1093.0" x2="1259.6" y2="1052.1" stroke="#c2c6cc" stroke-width="0.9"/>
<rect x="1259.6" y="1052.1" width="41.33" height="40.95" fill="#fae622" stroke="#c9c9c9" stroke-opacity="0.55" stroke-width="0.8"/>
<rect x="1301.0" y="1052.1" width="41.33" height="40.95" fill="#fbe723" stroke="#c9c9c9" stroke-opacity="0.55" stroke-width="0.8"/>
<rect x="1342.3" y="1052.1" width="41.33" height="40.95" fill="#5fc961" stroke="#c9c9c9" stroke-opacity="0.55" stroke-width="0.8"/>
<rect x="1383.6" y="1052.1" width="41.33" height="40.95" fill="#bfdf26" stroke="#c9c9c9" stroke-opacity="0.55" stroke-width="0.8"/>
<rect x="1424.9" y="1052.1" width="41.33" height="40.95" fill="#fde725" stroke="#c9c9c9" stroke-opacity="0.55" stroke-width="0.8"/>
<rect x="1466.3" y="1052.1" width="41.33" height="40.95" fill="#414487" stroke="#c9c9c9" stroke-opacity="0.55" stroke-width="0.8"/>
<rect x="1218.3" y="1093.0" width="41.33" height="40.95" fill="#fff" stroke="#c8c8c8" stroke-width="0.8"/>
<line x1="1218.3" y1="1134.0" x2="1259.6" y2="1093.0" stroke="#c2c6cc" stroke-width="0.9"/>
<rect x="1259.6" y="1093.0" width="41.33" height="40.95" fill="#37b878" stroke="#c9c9c9" stroke-opacity="0.55" stroke-width="0.8"/>
<rect x="1301.0" y="1093.0" width="41.33" height="40.95" fill="#cde11d" stroke="#c9c9c9" stroke-opacity="0.55" stroke-width="0.8"/>
<rect x="1342.3" y="1093.0" width="41.33" height="40.95" fill="#1fa088" stroke="#c9c9c9" stroke-opacity="0.55" stroke-width="0.8"/>
<rect x="1383.6" y="1093.0" width="41.33" height="40.95" fill="#7ad151" stroke="#c9c9c9" stroke-opacity="0.55" stroke-width="0.8"/>
<rect x="1424.9" y="1093.0" width="41.33" height="40.95" fill="#81d34d" stroke="#c9c9c9" stroke-opacity="0.55" stroke-width="0.8"/>
<rect x="1466.3" y="1093.0" width="41.33" height="40.95" fill="#472d7b" stroke="#c9c9c9" stroke-opacity="0.55" stroke-width="0.8"/>
<rect x="1218.3" y="1134.0" width="41.33" height="40.95" fill="#49c16d" stroke="#c9c9c9" stroke-opacity="0.55" stroke-width="0.8"/>
<rect x="1259.6" y="1134.0" width="41.33" height="40.95" fill="#1fa187" stroke="#c9c9c9" stroke-opacity="0.55" stroke-width="0.8"/>
<rect x="1301.0" y="1134.0" width="41.33" height="40.95" fill="#fde725" stroke="#c9c9c9" stroke-opacity="0.55" stroke-width="0.8"/>
<rect x="1342.3" y="1134.0" width="41.33" height="40.95" fill="#b8de29" stroke="#c9c9c9" stroke-opacity="0.55" stroke-width="0.8"/>
<rect x="1383.6" y="1134.0" width="41.33" height="40.95" fill="#6ccd5a" stroke="#c9c9c9" stroke-opacity="0.55" stroke-width="0.8"/>
<rect x="1424.9" y="1134.0" width="41.33" height="40.95" fill="#fde725" stroke="#c9c9c9" stroke-opacity="0.55" stroke-width="0.8"/>
<rect x="1466.3" y="1134.0" width="41.33" height="40.95" fill="#c5e021" stroke="#c9c9c9" stroke-opacity="0.55" stroke-width="0.8"/>
<rect x="1218.3" y="1174.9" width="41.33" height="40.95" fill="#2b748e" stroke="#c9c9c9" stroke-opacity="0.55" stroke-width="0.8"/>
<rect x="1259.6" y="1174.9" width="41.33" height="40.95" fill="#433d84" stroke="#c9c9c9" stroke-opacity="0.55" stroke-width="0.8"/>
<rect x="1301.0" y="1174.9" width="41.33" height="40.95" fill="#22a785" stroke="#c9c9c9" stroke-opacity="0.55" stroke-width="0.8"/>
<rect x="1342.3" y="1174.9" width="41.33" height="40.95" fill="#2a788e" stroke="#c9c9c9" stroke-opacity="0.55" stroke-width="0.8"/>
<rect x="1383.6" y="1174.9" width="41.33" height="40.95" fill="#1f978b" stroke="#c9c9c9" stroke-opacity="0.55" stroke-width="0.8"/>
<rect x="1424.9" y="1174.9" width="41.33" height="40.95" fill="#26ad81" stroke="#c9c9c9" stroke-opacity="0.55" stroke-width="0.8"/>
<rect x="1466.3" y="1174.9" width="41.33" height="40.95" fill="#a8db34" stroke="#c9c9c9" stroke-opacity="0.55" stroke-width="0.8"/>
<rect x="1218.3" y="1052.1" width="289.3" height="81.9" fill="none" stroke="#111" stroke-width="2.2"/>
<rect x="1218.3" y="1134.0" width="289.3" height="81.9" fill="none" stroke="#111" stroke-width="2.2"/>
<text x="1249.0" y="1224.6" font-size="26.3" text-anchor="end" fill="#000" transform="rotate(-90 1249.0 1224.6)" >SARC</text>
<text x="1290.2" y="1047.6" font-size="26.1" text-anchor="start" fill="#000" transform="rotate(-90 1290.2 1047.6)" >Pancreas</text>
<text x="1290.3" y="1224.6" font-size="26.3" text-anchor="end" fill="#000" transform="rotate(-90 1290.3 1224.6)" >PAAD</text>
<text x="1331.5" y="1047.6" font-size="26.1" text-anchor="start" fill="#000" transform="rotate(-90 1331.5 1047.6)" >Lung</text>
<text x="1331.6" y="1224.6" font-size="26.3" text-anchor="end" fill="#000" transform="rotate(-90 1331.6 1224.6)" >NSCLC</text>
<text x="1372.9" y="1047.6" font-size="26.1" text-anchor="start" fill="#000" transform="rotate(-90 1372.9 1047.6)" >Breast</text>
<text x="1373.0" y="1224.6" font-size="26.3" text-anchor="end" fill="#000" transform="rotate(-90 1373.0 1224.6)" >BRAC</text>
<text x="1414.2" y="1047.6" font-size="26.1" text-anchor="start" fill="#000" transform="rotate(-90 1414.2 1047.6)" >Skin</text>
<text x="1414.3" y="1224.6" font-size="26.3" text-anchor="end" fill="#000" transform="rotate(-90 1414.3 1224.6)" >SKCM</text>
<text x="1455.5" y="1047.6" font-size="26.1" text-anchor="start" fill="#000" transform="rotate(-90 1455.5 1047.6)" >Prostate</text>
<text x="1455.6" y="1224.6" font-size="26.3" text-anchor="end" fill="#000" transform="rotate(-90 1455.6 1224.6)" >PRAD</text>
<text x="1496.8" y="1047.6" font-size="26.1" text-anchor="start" fill="#000" transform="rotate(-90 1496.8 1047.6)" >Brain</text>
<text x="1496.9" y="1224.6" font-size="26.3" text-anchor="end" fill="#000" transform="rotate(-90 1496.9 1224.6)" >GBM</text>
<text x="1210.8" y="1083.2" font-size="25.6" text-anchor="end" fill="#000" >TrCD56<tspan font-size="78.0%" dy="-11.2">bright</tspan></text>
<text x="1210.8" y="1125" font-size="25.6" text-anchor="end" fill="#000" >TrCD56<tspan font-size="78.0%" dy="-11.2">dim</tspan></text>
<text x="1210.8" y="1166.7" font-size="25.6" text-anchor="end" fill="#000" >TiCD56<tspan font-size="78.0%" dy="-11.2">bright</tspan></text>
<text x="1210.8" y="1208.7" font-size="25.6" text-anchor="end" fill="#000" >TiCD56<tspan font-size="78.0%" dy="-11.2">dim</tspan></text>
<linearGradient id="gg" x1="0" x2="1" y1="0" y2="0"><stop offset="0" stop-color="#440154"/><stop offset="0.125" stop-color="#482878"/><stop offset="0.25" stop-color="#3e4a89"/><stop offset="0.375" stop-color="#31688e"/><stop offset="0.5" stop-color="#26828e"/><stop offset="0.625" stop-color="#1f9e89"/><stop offset="0.75" stop-color="#35b779"/><stop offset="0.875" stop-color="#6ece58"/><stop offset="0.95" stop-color="#b5de2b"/><stop offset="1" stop-color="#fde725"/></linearGradient>
<rect x="1097.4" y="1248.7" width="103.2" height="14.1" fill="url(#gg)" stroke="#000" stroke-width="1.6"/>
<line x1="1097.4" x2="1097.4" y1="1263" y2="1267.6" stroke="#000" stroke-width="1.3"/>
<text x="1097.4" y="1285.9" font-size="17" text-anchor="middle" fill="#000" >0.0</text>
<line x1="1180" x2="1180" y1="1263" y2="1267.6" stroke="#000" stroke-width="1.3"/>
<text x="1180" y="1285.9" font-size="17" text-anchor="middle" fill="#000" >0.1</text>
<rect x="1525.5" y="1039.6" width="129" height="171.2" rx="9" ry="9" fill="#fff" stroke="#c6c6c6" stroke-width="2.2"/>
<text x="1542" y="1070.0" font-size="20.6" text-anchor="start" fill="#7e7e7e" >PSMA2</text>
<text x="1542" y="1095.0" font-size="20.6" text-anchor="start" fill="#7e7e7e" >SLC5A3</text>
<text x="1542" y="1120.0" font-size="20.6" text-anchor="start" fill="#7e7e7e" >CCL4L2</text>
<text x="1542" y="1145.0" font-size="20.6" text-anchor="start" fill="#7e7e7e" >CLN3</text>
<text x="1542" y="1170.0" font-size="20.6" text-anchor="start" fill="#7e7e7e" >SCGB1A1</text>
<text x="1542" y="1195.0" font-size="20.6" text-anchor="start" fill="#7e7e7e" >AREG</text>
<g filter="url(#f1)"><path d="M51.0 141.0C52.7 135.9 58.1 128.7 67.3 124.7C76.5 120.6 92.1 118.5 106.0 116.5C120.0 114.5 138.0 112.1 150.9 112.4C163.8 112.8 173.3 115.1 183.5 118.5C193.7 121.9 207.3 128.4 212.1 132.8C216.8 137.2 215.5 140.6 212.1 145.1C208.7 149.5 201.2 155.9 191.7 159.3C182.2 162.7 167.9 163.7 155.0 165.4C142.1 167.1 126.4 169.5 114.2 169.5C102.0 169.5 91.1 167.8 81.6 165.4C72.0 163.1 62.2 159.3 57.1 155.2C52.0 151.2 49.3 146.1 51.0 141.0Z" fill="#000" fill-opacity="0.72"/><path d="M46.9 187.9C53.0 184.5 73.1 183.5 85.6 183.8C98.2 184.1 109.4 189.6 122.3 189.9C135.3 190.3 152.9 184.1 163.1 185.8C173.3 187.5 177.1 195.7 183.5 200.1C190.0 204.5 200.2 207.6 201.9 212.3C203.6 217.1 198.1 224.6 193.7 228.7C189.3 232.7 180.5 232.7 175.4 236.8C170.3 240.9 164.5 247.0 163.1 253.1C161.8 259.2 163.8 266.7 167.2 273.5C170.6 280.3 177.7 287.8 183.5 293.9C189.3 300.0 200.2 303.4 201.9 310.2C203.6 317.0 198.1 326.5 193.7 334.7C189.3 342.8 183.8 352.4 175.4 359.1C166.9 365.9 154.3 371.7 142.7 375.5C131.2 379.2 118.3 381.6 106.0 381.6C93.8 381.6 80.2 379.2 69.3 375.5C58.5 371.7 49.3 364.6 40.8 359.1C32.3 353.7 23.4 348.6 18.4 342.8C13.3 337.1 8.8 329.2 10.2 324.5C11.6 319.7 21.4 319.4 26.5 314.3C31.6 309.2 38.4 302.4 40.8 293.9C43.2 285.4 40.1 272.8 40.8 263.3C41.5 253.8 47.2 242.6 44.9 236.8C42.5 231.0 32.3 230.0 26.5 228.7C20.7 227.3 9.9 231.4 10.2 228.7C10.5 225.9 22.1 216.4 28.5 212.3C35.0 208.3 45.9 208.3 48.9 204.2C52.0 200.1 40.8 191.3 46.9 187.9Z" fill="#000" fill-opacity="0.6"/><ellipse cx="114.2" cy="340.8" rx="65.2" ry="30.6" fill="#000" fill-opacity="0.3"/><path d="M203.9 185.8C209.0 183.3 230.7 177.2 236.5 176.7C242.3 176.1 243.7 180.2 238.6 182.8C233.5 185.3 211.7 191.4 205.9 191.9C200.2 192.5 198.8 188.4 203.9 185.8Z" fill="#000" fill-opacity="0.95"/><path d="M214.1 201.3C218.3 200.3 235.3 199.2 239.6 199.7C243.8 200.2 243.8 203.6 239.6 204.6C235.3 205.6 218.3 206.4 214.1 205.8C209.8 205.3 209.8 202.3 214.1 201.3Z" fill="#000" fill-opacity="0.95"/><path d="M212.1 211.9C216.5 212.3 232.8 217.7 236.5 220.1C240.3 222.5 238.9 226.5 234.5 226.2C230.1 225.9 213.8 220.4 210.0 218.0C206.3 215.7 207.6 211.6 212.1 211.9Z" fill="#000" fill-opacity="0.95"/><path d="M310.5 53.7C311.9 48.4 319.3 41.8 327.4 38.9C335.4 36.1 349.1 34.7 358.9 36.8C368.7 38.9 380.0 46.3 386.3 51.6C392.6 56.8 396.1 63.5 396.8 68.4C397.5 73.3 396.8 78.6 390.5 81.0C384.2 83.5 368.7 82.4 358.9 83.2C349.1 83.9 338.2 87.4 331.6 85.3C324.9 83.1 322.4 75.8 318.9 70.5C315.4 65.3 309.1 58.9 310.5 53.7Z" fill="#000" fill-opacity="0.72"/><path d="M221.0 92.6C218.8 89.8 227.6 72.9 234.3 69.5C241.0 66.1 258.8 69.4 261.0 72.2C263.3 75.0 254.4 82.9 247.8 86.3C241.1 89.7 223.3 95.4 221.0 92.6Z" fill="#000" fill-opacity="0.6"/><path d="M302.1 105.3C302.8 104.4 317.2 107.2 327.4 108.0C337.5 108.8 355.7 107.2 363.1 110.1C370.6 113.0 372.7 122.0 372.0 125.2C371.3 128.5 365.3 130.2 358.9 129.9C352.5 129.6 339.6 126.4 333.7 123.6C327.7 120.8 328.4 116.1 323.1 113.0C317.9 110.0 301.4 106.1 302.1 105.3Z" fill="#000" fill-opacity="0.68"/><path d="M250.5 141.0C248.8 139.6 250.9 128.8 254.7 126.3C258.6 123.8 271.9 124.9 273.7 126.3C275.4 127.7 269.1 132.3 265.3 134.7C261.4 137.2 252.3 142.4 250.5 141.0Z" fill="#000" fill-opacity="1.0"/><path d="M276.8 171.6C277.5 167.0 282.8 160.3 289.5 156.8C296.1 153.3 307.7 150.5 316.8 150.5C325.9 150.5 338.9 154.0 344.2 156.8C349.5 159.6 349.8 163.1 348.4 167.3C347.0 171.6 342.8 178.9 335.8 182.1C328.8 185.2 314.7 185.9 306.3 186.3C297.9 186.6 290.2 186.6 285.2 184.2C280.3 181.7 276.1 176.1 276.8 171.6Z" fill="#000" fill-opacity="0.78"/><path d="M203.2 188.4C208.4 185.6 231.0 177.9 236.8 176.8C242.6 175.8 243.1 179.3 237.9 182.1C232.6 184.9 211.0 192.6 205.3 193.7C199.5 194.7 197.9 191.2 203.2 188.4Z" fill="#000" fill-opacity="0.6"/><path d="M220.0 200.6C225.3 199.7 246.3 198.6 251.6 198.9C256.8 199.3 256.8 201.8 251.6 202.7C246.3 203.6 225.3 204.5 220.0 204.2C214.7 203.8 214.7 201.5 220.0 200.6Z" fill="#000" fill-opacity="0.6"/><path d="M215.8 212.6C219.5 213.0 233.5 217.9 236.8 220.0C240.2 222.1 239.5 225.6 235.8 225.2C232.1 224.9 218.1 220.0 214.7 217.9C211.4 215.8 212.1 212.3 215.8 212.6Z" fill="#000" fill-opacity="0.6"/><path d="M270.5 272.6C269.1 268.2 268.8 261.9 272.6 257.9C276.5 253.8 287.4 249.1 293.7 248.4C300.0 247.7 306.8 250.3 310.5 253.7C314.2 257.0 317.2 263.8 315.8 268.4C314.4 273.0 307.9 278.4 302.1 281.0C296.3 283.7 286.3 285.6 281.0 284.2C275.8 282.8 271.9 277.0 270.5 272.6Z" fill="#000" fill-opacity="0.62"/><ellipse cx="286.9" cy="323.5" rx="8.8" ry="5.1" fill="#000" fill-opacity="1.0" transform="rotate(-15 286.9 323.5)"/><path d="M350.5 186.3C353.5 185.6 366.1 187.0 369.4 188.4C372.8 189.8 373.5 194.0 370.5 194.7C367.5 195.4 354.9 194.0 351.6 192.6C348.2 191.2 347.5 187.0 350.5 186.3Z" fill="#000" fill-opacity="0.35"/></g>
<g filter="url(#f2)"><path d="M268.4 236.8C272.3 234.7 289.3 231.4 293.7 231.6C298.1 231.7 298.6 235.8 294.7 237.9C290.9 240.0 274.9 244.4 270.5 244.2C266.1 244.0 264.6 238.9 268.4 236.8Z" fill="#000" fill-opacity="0.35"/><ellipse cx="181.1" cy="69.5" rx="1.3" ry="4.6" fill="#000" fill-opacity="0.8" transform="rotate(-20 181.1 69.5)"/></g>
<g filter="url(#f3)"><path d="M269.5 234.7C270.0 232.3 272.8 232.3 273.7 234.7C274.5 237.2 275.3 247.0 274.7 249.4C274.2 251.9 271.4 251.9 270.5 249.4C269.6 247.0 268.9 237.2 269.5 234.7Z" fill="#000" fill-opacity="0.35"/><ellipse cx="214.7" cy="73.3" rx="4.6" ry="1.1" fill="#000" fill-opacity="0.6"/></g>
<g filter="url(#f4)"><path d="M421.1 179.1C426.3 176.3 436.2 171.1 446.8 169.0C457.5 166.9 472.6 165.8 485.0 166.3C497.4 166.8 510.8 168.8 521.3 172.1C531.8 175.3 540.7 180.3 548.0 185.8C555.3 191.3 562.3 198.4 565.1 204.9C568.0 211.4 568.3 219.7 565.1 224.9C562.0 230.2 555.0 233.8 546.1 236.4C537.2 238.9 521.9 239.9 511.7 240.2C501.5 240.5 493.9 238.3 485.0 238.3C476.1 238.3 466.4 240.6 458.3 240.2C450.2 239.7 441.9 238.7 436.4 235.4C430.8 232.1 428.6 225.9 424.9 220.1C421.2 214.4 415.6 206.7 414.0 201.1C412.4 195.4 414.2 189.8 415.4 186.2C416.5 182.5 415.8 182.0 421.1 179.1Z" fill="#000" fill-opacity="0.88"/><path d="M423.0 240.2C426.8 237.6 440.6 232.1 446.8 232.5C453.0 233.0 461.3 239.5 460.2 243.0C459.1 246.5 446.2 252.7 440.2 253.5C434.1 254.3 426.8 250.0 424.0 247.8C421.1 245.6 419.2 242.7 423.0 240.2Z" fill="#000" fill-opacity="0.85"/><path d="M380.1 259.8C383.7 258.6 399.0 255.5 403.0 255.4C406.9 255.3 407.6 258.0 403.9 259.2C400.3 260.5 385.0 263.0 381.0 263.1C377.0 263.2 376.4 261.1 380.1 259.8Z" fill="#000" fill-opacity="0.8"/><path d="M403.0 203.0C406.5 196.0 417.9 189.9 424.0 197.2C430.0 204.6 439.9 236.0 439.2 246.8C438.6 257.7 426.2 263.4 420.1 262.1C414.1 260.8 405.8 249.1 403.0 239.2C400.1 229.4 399.5 210.0 403.0 203.0Z" fill="#000" fill-opacity="0.22"/></g>
<g filter="url(#f5)"><path d="M386.7 178.2C388.1 174.5 396.4 171.2 403.0 168.2C409.5 165.3 419.3 161.9 425.9 160.6C432.4 159.3 438.6 159.0 442.1 160.6C445.6 162.3 449.7 166.5 446.8 170.5C444.0 174.6 431.2 180.5 424.9 184.8C418.6 189.1 414.1 195.4 409.1 196.3C404.1 197.1 398.7 193.0 395.0 190.0C391.2 187.0 385.4 181.8 386.7 178.2Z" fill="#000" fill-opacity="0.92"/><path d="M403.0 197.2C405.2 191.8 415.4 185.8 420.1 189.6C424.9 193.4 430.9 211.2 431.6 220.1C432.2 229.0 428.1 242.7 424.0 243.0C419.8 243.3 410.3 229.7 406.8 222.0C403.3 214.4 400.7 202.6 403.0 197.2Z" fill="#000" fill-opacity="0.42"/><path d="M446.8 170.5C451.3 165.8 469.4 165.4 473.6 168.6C477.7 171.8 476.1 184.8 471.7 189.6C467.2 194.4 451.0 200.4 446.8 197.2C442.7 194.1 442.4 175.3 446.8 170.5Z" fill="#000" fill-opacity="0.2"/><path d="M374.3 239.2C382.6 234.8 411.2 231.6 420.1 235.4C429.0 239.2 431.6 255.8 427.8 262.1C424.0 268.5 406.8 273.6 397.2 273.6C387.7 273.6 374.3 267.8 370.5 262.1C366.7 256.4 366.1 243.7 374.3 239.2Z" fill="#000" fill-opacity="0.2"/></g>
<g filter="url(#f6)"><path d="M369.6 224.0C369.6 219.6 373.2 215.0 377.8 212.1C382.4 209.2 390.8 206.8 397.2 206.4C403.7 206.0 412.1 207.2 416.7 209.8C421.3 212.4 424.9 218.0 424.9 222.0C424.9 226.1 421.3 231.3 416.7 234.3C412.1 237.2 403.7 239.3 397.2 240.0C390.8 240.6 382.4 240.7 377.8 238.1C373.2 235.4 369.6 228.3 369.6 224.0Z" fill="#000" fill-opacity="0.93"/><path d="M363.9 254.1C366.8 253.1 378.9 251.4 382.0 251.6C385.1 251.9 385.3 254.6 382.4 255.6C379.4 256.6 367.5 257.8 364.4 257.5C361.3 257.3 360.9 255.1 363.9 254.1Z" fill="#000" fill-opacity="0.85"/><path d="M397.2 239.2C400.4 235.9 417.3 232.9 422.0 234.4C426.8 236.0 429.0 245.4 425.9 248.8C422.7 252.1 407.7 256.1 403.0 254.5C398.2 252.9 394.1 242.6 397.2 239.2Z" fill="#000" fill-opacity="0.4"/></g>
<g filter="url(#f7)"><path d="M421.1 271.7C425.1 266.8 436.2 260.6 446.8 256.4C457.5 252.2 471.0 248.1 485.0 246.5C499.0 244.8 520.0 245.1 530.8 246.5C541.6 247.8 541.9 251.6 549.9 254.5C557.8 257.3 572.1 259.8 578.5 263.6C584.9 267.5 587.4 271.6 588.4 277.4C589.4 283.2 588.3 294.2 584.6 298.4C580.9 302.6 573.2 300.3 566.1 302.6C559.0 304.9 551.3 309.9 542.2 312.1C533.2 314.3 523.2 315.9 511.7 315.9C500.3 315.9 484.5 313.9 473.6 312.1C462.6 310.3 452.4 308.2 445.9 305.0C439.4 301.9 438.3 296.3 434.4 293.0C430.6 289.7 425.2 289.0 423.0 285.4C420.8 281.8 417.1 276.5 421.1 271.7Z" fill="#000" fill-opacity="0.88"/><path d="M380.4 275.8C384.1 275.1 399.1 274.2 403.0 274.5C406.8 274.9 407.0 277.2 403.3 277.9C399.7 278.7 384.6 279.4 380.8 279.1C377.0 278.7 376.8 276.6 380.4 275.8Z" fill="#000" fill-opacity="0.8"/><path d="M462.1 311.7C466.6 310.0 499.0 315.2 511.7 316.5C524.4 317.8 535.3 315.7 538.4 319.4C541.6 323.0 535.3 334.6 530.8 338.4C526.3 342.2 519.4 344.2 511.7 342.2C504.1 340.3 493.3 332.1 485.0 327.0C476.7 321.9 457.7 313.5 462.1 311.7Z" fill="#000" fill-opacity="0.42"/><path d="M403.0 262.1C408.1 255.8 423.3 246.2 427.8 254.5C432.2 262.7 432.2 301.5 429.7 311.7C427.1 321.9 417.9 318.7 412.5 315.5C407.1 312.4 398.8 301.5 397.2 292.6C395.6 283.7 397.9 268.5 403.0 262.1Z" fill="#000" fill-opacity="0.22"/></g>
<g filter="url(#f8)"><path d="M403.9 317.4C403.9 313.9 410.4 309.6 416.3 307.9C422.2 306.3 432.5 305.9 439.2 307.5C445.9 309.1 456.2 313.9 456.4 317.4C456.5 321.0 446.8 327.0 440.2 328.9C433.5 330.8 422.4 330.8 416.3 328.9C410.3 327.0 403.9 320.9 403.9 317.4Z" fill="#000" fill-opacity="0.85"/><path d="M446.8 307.9C451.3 306.0 471.0 311.4 485.0 311.7C499.0 312.0 519.4 309.8 530.8 309.8C542.2 309.8 553.7 307.9 553.7 311.7C553.7 315.5 541.0 330.8 530.8 332.7C520.6 334.6 504.7 324.8 492.6 323.2C480.6 321.6 465.9 325.7 458.3 323.2C450.7 320.6 442.4 309.8 446.8 307.9Z" fill="#000" fill-opacity="0.3"/><path d="M397.2 300.3C400.1 295.8 415.7 294.5 420.1 296.5C424.6 298.4 426.8 307.3 424.0 311.7C421.1 316.2 407.4 325.1 403.0 323.2C398.5 321.3 394.4 304.7 397.2 300.3Z" fill="#000" fill-opacity="0.3"/></g>
<g filter="url(#f9)"><path d="M438.3 324.1C441.6 321.0 453.0 316.0 462.1 315.5C471.2 315.1 484.4 318.1 492.6 321.3C500.9 324.4 507.9 329.8 511.7 334.6C515.5 339.4 516.7 345.6 515.5 349.9C514.3 354.2 509.6 359.9 504.5 360.4C499.4 360.9 492.1 355.8 485.0 352.7C477.9 349.7 469.3 345.3 462.1 342.2C455.0 339.2 446.1 337.3 442.1 334.2C438.1 331.2 434.9 327.2 438.3 324.1Z" fill="#000" fill-opacity="0.95"/><path d="M504.1 330.8C506.6 327.0 520.3 334.3 523.2 338.4C526.0 342.6 523.8 351.8 521.3 355.6C518.7 359.4 510.8 365.5 507.9 361.3C505.0 357.2 501.5 334.6 504.1 330.8Z" fill="#000" fill-opacity="0.3"/></g>
<g filter="url(#f10)"><path d="M359.1 348.9C361.0 345.7 364.2 342.1 370.5 340.3C376.9 338.6 388.3 337.2 397.2 338.4C406.1 339.7 414.4 344.5 424.0 348.0C433.5 351.5 444.9 354.9 454.5 359.4C464.0 363.9 476.7 370.6 481.2 375.1C485.6 379.6 483.2 381.8 481.2 386.5C479.2 391.2 475.1 399.6 469.4 403.3C463.6 407.1 455.7 409.0 446.8 409.0C438.0 409.0 425.9 406.7 416.3 403.3C406.7 399.9 397.0 393.8 389.2 388.8C381.5 383.8 375.0 378.2 370.0 373.3C364.9 368.5 360.9 363.9 359.1 359.8C357.3 355.7 357.2 352.2 359.1 348.9Z" fill="#000" fill-opacity="0.9"/><ellipse cx="378.2" cy="309.8" rx="5.3" ry="9.2" fill="#000" fill-opacity="0.7" transform="rotate(-25 378.2 309.8)"/><path d="M422.0 330.8C425.5 329.7 439.9 334.6 446.8 338.4C453.8 342.2 464.0 350.5 464.0 353.7C464.0 356.9 453.2 358.9 446.8 357.5C440.5 356.1 430.0 349.6 425.9 345.1C421.7 340.7 418.5 331.9 422.0 330.8Z" fill="#000" fill-opacity="0.4"/></g>
<g filter="url(#f11)"><ellipse cx="399.1" cy="288.8" rx="7.6" ry="6.5" fill="#000" fill-opacity="0.85"/></g>
<g filter="url(#f12)"><path d="M379.1 260.2C382.9 258.7 398.8 255.2 403.0 255.1C407.1 254.9 407.9 257.9 404.1 259.4C400.4 260.9 384.6 263.9 380.4 264.0C376.3 264.1 375.4 261.7 379.1 260.2Z" fill="#000" fill-opacity="0.75"/></g>
<g filter="url(#f13)"><path d="M362.9 254.5C366.0 253.3 379.0 251.0 382.4 251.2C385.7 251.5 386.0 254.6 382.9 255.8C379.8 257.0 367.0 258.5 363.7 258.3C360.3 258.1 359.8 255.7 362.9 254.5Z" fill="#000" fill-opacity="0.75"/></g>
<g filter="url(#f14)"><path d="M379.7 275.8C383.6 274.9 399.3 273.7 403.3 274.1C407.4 274.6 407.6 277.6 403.7 278.5C399.8 279.4 384.1 280.1 380.1 279.7C376.1 279.2 375.8 276.8 379.7 275.8Z" fill="#000" fill-opacity="0.75"/></g>
<g filter="url(#f15)"><path d="M1692.5 164.1C1694.4 157.2 1699.5 145.8 1707.7 141.4C1715.9 137.0 1729.8 135.7 1741.9 137.6C1753.9 139.5 1772.2 147.1 1779.8 152.8C1787.4 158.5 1791.2 166.0 1787.4 171.7C1783.6 177.4 1768.4 183.4 1757.0 186.9C1745.7 190.4 1729.2 193.2 1719.1 192.6C1709.0 192.0 1700.8 187.9 1696.3 183.1C1691.9 178.4 1690.6 171.1 1692.5 164.1Z" fill="#000" fill-opacity="0.8"/><path d="M1252.4 186.9C1253.7 180.0 1259.4 168.9 1267.6 164.1C1275.8 159.4 1291.6 157.2 1301.8 158.5C1311.9 159.7 1320.7 165.7 1328.3 171.7C1335.9 177.7 1343.5 186.9 1347.3 194.5C1351.1 202.1 1354.9 212.2 1351.1 217.3C1347.3 222.3 1334.0 223.0 1324.5 224.9C1315.0 226.7 1301.8 225.5 1294.2 228.6C1286.6 231.8 1284.1 243.8 1279.0 243.8C1273.9 243.8 1267.0 235.0 1263.8 228.6C1260.7 222.3 1261.9 212.8 1260.0 205.9C1258.1 198.9 1251.2 193.9 1252.4 186.9Z" fill="#000" fill-opacity="0.55"/><path d="M1263.8 236.2C1267.6 231.2 1286.6 233.1 1294.2 236.2C1301.8 239.4 1311.2 246.3 1309.3 255.2C1307.5 264.1 1289.1 287.5 1282.8 289.3C1276.5 291.2 1274.6 275.4 1271.4 266.6C1268.2 257.7 1260.0 241.3 1263.8 236.2Z" fill="#000" fill-opacity="0.22"/><path d="M1389.0 312.1C1388.4 300.7 1399.8 285.6 1408.0 274.2C1416.2 262.8 1427.0 250.6 1438.3 243.8C1449.7 237.0 1464.9 233.2 1476.3 233.2C1487.7 233.2 1497.2 238.9 1506.6 243.8C1516.1 248.8 1522.4 263.7 1533.2 262.8C1543.9 261.8 1556.0 243.7 1571.1 238.1C1586.3 232.6 1606.5 229.1 1624.2 229.4C1642.0 229.7 1664.8 234.5 1677.4 240.0C1689.9 245.6 1697.5 254.6 1699.4 262.8C1701.3 271.0 1696.2 283.0 1688.7 289.3C1681.3 295.7 1662.8 296.3 1654.6 300.7C1646.4 305.2 1648.9 312.1 1639.4 315.9C1629.9 319.7 1607.2 319.1 1597.7 323.5C1588.2 327.9 1588.8 335.5 1582.5 342.5C1576.2 349.4 1569.9 357.6 1559.8 365.2C1549.6 372.8 1533.2 382.4 1521.8 388.0C1510.4 393.6 1502.8 399.2 1491.5 398.6C1480.1 398.0 1463.6 390.4 1453.5 384.2C1443.4 378.0 1437.7 368.4 1430.8 361.4C1423.8 354.5 1418.7 350.7 1411.8 342.5C1404.8 334.2 1389.7 323.5 1389.0 312.1Z" fill="#000" fill-opacity="0.82"/><path d="M1356.8 350.1C1356.8 344.2 1366.6 338.0 1373.8 335.6C1381.1 333.2 1394.1 332.6 1400.4 335.6C1406.7 338.7 1411.8 347.8 1411.8 353.8C1411.8 359.9 1406.7 369.2 1400.4 372.1C1394.1 374.9 1381.1 374.6 1373.8 370.9C1366.6 367.3 1356.8 355.9 1356.8 350.1Z" fill="#000" fill-opacity="0.8"/><ellipse cx="1491.5" cy="327.3" rx="87.3" ry="56.9" fill="#000" fill-opacity="0.18" transform="rotate(-10 1491.5 327.3)"/><path d="M1415.6 429.7C1418.7 426.7 1437.7 425.3 1449.7 422.9C1461.7 420.5 1483.9 412.9 1487.7 415.3C1491.5 417.7 1478.2 431.9 1472.5 437.3C1466.8 442.8 1460.5 447.3 1453.5 447.9C1446.6 448.6 1437.1 444.1 1430.8 441.1C1424.4 438.1 1412.4 432.8 1415.6 429.7Z" fill="#000" fill-opacity="0.55"/><path d="M1654.6 380.4C1656.5 378.0 1674.2 377.9 1681.2 373.6C1688.1 369.3 1688.7 357.1 1696.3 354.6C1703.9 352.1 1718.0 355.9 1726.7 358.4C1735.4 360.9 1747.4 365.8 1748.7 369.8C1750.0 373.8 1743.0 378.9 1734.3 382.3C1725.5 385.7 1707.1 388.9 1696.3 389.9C1685.6 390.8 1676.7 389.6 1669.8 388.0C1662.8 386.4 1652.7 382.8 1654.6 380.4Z" fill="#000" fill-opacity="0.6"/><ellipse cx="1508.5" cy="218.0" rx="17.5" ry="6.4" fill="#000" fill-opacity="0.75" transform="rotate(-5 1508.5 218.0)"/><path d="M1571.1 200.2C1571.8 197.0 1582.5 189.1 1590.1 186.9C1597.7 184.7 1611.0 184.7 1616.7 186.9C1622.4 189.1 1626.1 195.8 1624.2 200.2C1622.4 204.6 1611.6 212.5 1605.3 213.5C1599.0 214.4 1592.0 208.1 1586.3 205.9C1580.6 203.7 1570.5 203.4 1571.1 200.2Z" fill="#000" fill-opacity="0.65"/><ellipse cx="1787.4" cy="234.3" rx="18.2" ry="5.3" fill="#000" fill-opacity="0.5" transform="rotate(10 1787.4 234.3)"/><ellipse cx="1379.5" cy="187.7" rx="6.8" ry="11.4" fill="#000" fill-opacity="0.55" transform="rotate(-30 1379.5 187.7)"/><ellipse cx="1389.0" cy="262.0" rx="7.6" ry="6.1" fill="#000" fill-opacity="0.8"/><ellipse cx="1590.1" cy="369.0" rx="13.7" ry="8.3" fill="#000" fill-opacity="0.45" transform="rotate(30 1590.1 369.0)"/><ellipse cx="1537.0" cy="391.8" rx="11.4" ry="5.3" fill="#000" fill-opacity="0.6" transform="rotate(35 1537.0 391.8)"/><ellipse cx="1343.5" cy="291.2" rx="3.0" ry="12.1" fill="#000" fill-opacity="0.6" transform="rotate(-35 1343.5 291.2)"/><ellipse cx="1286.6" cy="287.5" rx="11.4" ry="2.3" fill="#000" fill-opacity="0.5" transform="rotate(-35 1286.6 287.5)"/><ellipse cx="1400.4" cy="240.8" rx="5.3" ry="3.0" fill="#000" fill-opacity="0.7"/><ellipse cx="1673.6" cy="194.5" rx="17.1" ry="4.6" fill="#000" fill-opacity="0.3" transform="rotate(-10 1673.6 194.5)"/></g>
<g filter="url(#f16)"><ellipse cx="1173.9" cy="161.1" rx="7.6" ry="4.9" fill="#000" fill-opacity="0.85"/></g>
<g filter="url(#f17)"><ellipse cx="1411.8" cy="204.0" rx="1.9" ry="5.3" fill="#000" fill-opacity="0.8" transform="rotate(30 1411.8 204.0)"/><ellipse cx="1400.4" cy="214.2" rx="10.6" ry="3.0" fill="#000" fill-opacity="0.35" transform="rotate(-15 1400.4 214.2)"/><ellipse cx="1544.6" cy="212.7" rx="1.5" ry="1.1" fill="#000" fill-opacity="0.9"/><ellipse cx="1479.3" cy="190.7" rx="1.1" ry="3.8" fill="#000" fill-opacity="0.7" transform="rotate(10 1479.3 190.7)"/></g>
<g filter="url(#f18)"><ellipse cx="1238.0" cy="250.6" rx="3.0" ry="1.9" fill="#000" fill-opacity="0.6"/><ellipse cx="1183.4" cy="251.8" rx="2.3" ry="1.5" fill="#000" fill-opacity="0.6"/><ellipse cx="1248.6" cy="262.8" rx="5.3" ry="3.8" fill="#000" fill-opacity="0.15"/></g>
<g filter="url(#f19)"><path d="M1390.3 54.9C1392.2 51.7 1401.7 49.8 1407.7 47.2C1413.7 44.6 1420.9 40.0 1426.1 39.3C1431.3 38.6 1439.2 39.1 1438.9 42.9C1438.6 46.8 1427.9 56.1 1424.2 62.2C1420.6 68.3 1420.2 76.4 1416.9 79.6C1413.5 82.8 1407.5 83.7 1404.0 81.5C1400.6 79.2 1398.6 70.7 1396.3 66.2C1394.0 61.8 1388.4 58.0 1390.3 54.9Z" fill="#000" fill-opacity="0.85"/><path d="M1415.0 82.4C1418.1 80.4 1430.3 81.6 1437.1 85.1C1443.8 88.7 1448.7 97.4 1455.4 103.5C1462.1 109.6 1469.8 118.8 1477.4 121.8C1485.1 124.9 1497.3 117.4 1501.3 121.8C1505.3 126.3 1503.4 141.0 1501.3 148.4C1499.1 155.9 1494.9 161.9 1488.4 166.8C1482.0 171.7 1469.5 174.7 1462.8 177.8C1456.0 180.9 1453.0 186.4 1448.1 185.1C1443.2 183.9 1435.2 176.6 1433.4 170.5C1431.6 164.3 1435.2 155.2 1437.1 148.4C1438.9 141.7 1445.0 136.2 1444.4 130.1C1443.8 124.0 1437.7 117.2 1433.4 111.7C1429.1 106.2 1421.8 102.0 1418.7 97.1C1415.7 92.2 1412.0 84.4 1415.0 82.4Z" fill="#000" fill-opacity="0.42"/><path d="M1438.9 172.3C1440.6 169.2 1450.5 165.9 1455.4 165.9C1460.3 165.9 1467.5 169.2 1468.3 172.3C1469.0 175.4 1463.8 182.2 1460.0 184.2C1456.2 186.2 1448.8 186.2 1445.3 184.2C1441.8 182.2 1437.2 175.4 1438.9 172.3Z" fill="#000" fill-opacity="0.9"/><path d="M1426.1 159.5C1429.1 157.0 1437.4 154.6 1440.7 155.8C1444.1 157.0 1447.5 163.4 1446.2 166.8C1445.0 170.2 1437.4 175.4 1433.4 176.0C1429.4 176.6 1423.6 173.2 1422.4 170.5C1421.2 167.7 1423.0 161.9 1426.1 159.5Z" fill="#000" fill-opacity="0.5"/><path d="M1521.5 61.3C1524.5 58.5 1537.1 64.5 1543.5 66.8C1549.9 69.1 1563.1 72.3 1560.0 75.0C1556.9 77.8 1531.6 85.6 1525.1 83.3C1518.7 81.0 1518.4 64.0 1521.5 61.3Z" fill="#000" fill-opacity="0.5"/><path d="M1429.7 42.0C1430.9 40.5 1445.6 33.2 1455.4 32.8C1465.2 32.5 1478.0 36.2 1488.4 40.2C1498.8 44.2 1511.7 52.1 1517.8 56.7C1523.9 61.3 1526.4 66.2 1525.1 67.7C1523.9 69.2 1518.4 69.2 1510.5 65.9C1502.5 62.5 1487.8 51.5 1477.4 47.5C1467.0 43.5 1456.0 42.9 1448.1 42.0C1440.1 41.1 1428.5 43.5 1429.7 42.0Z" fill="#000" fill-opacity="0.35"/></g>
<g filter="url(#f20)"><path d="M1391.6 54.9C1393.4 53.3 1403.3 50.4 1405.9 51.2C1408.4 52.0 1408.6 57.9 1406.8 59.5C1405.0 61.0 1397.4 61.1 1394.9 60.4C1392.3 59.6 1389.7 56.4 1391.6 54.9Z" fill="#000" fill-opacity="0.7"/></g>
<g filter="url(#f21)"><ellipse cx="1437.1" cy="36.1" rx="4.0" ry="1.8" fill="#000" fill-opacity="0.8"/></g>
<g filter="url(#f22)"><path d="M1421.5 62.6C1420.9 56.2 1428.4 49.3 1433.4 44.8C1438.4 40.2 1444.4 36.0 1451.7 35.2C1459.1 34.5 1468.9 37.8 1477.4 40.2C1486.0 42.5 1495.8 45.6 1503.1 49.4C1510.5 53.1 1517.9 58.3 1521.5 62.6C1525.1 66.9 1526.5 70.2 1524.8 75.0C1523.0 79.9 1515.6 86.7 1510.8 91.9C1506.1 97.2 1501.0 101.8 1496.1 106.6C1491.3 111.4 1486.2 118.5 1481.8 120.6C1477.5 122.6 1474.5 122.0 1470.1 118.7C1465.7 115.5 1460.9 107.1 1455.4 101.1C1449.9 95.1 1442.7 89.2 1437.1 82.8C1431.4 76.3 1422.1 68.9 1421.5 62.6Z" fill="#000" fill-opacity="0.95"/></g>
<g filter="url(#f23)"><path d="M1382.0 126.4C1382.6 120.9 1386.6 115.1 1390.8 109.9C1395.0 104.7 1401.5 98.0 1407.3 95.2C1413.2 92.5 1420.4 91.6 1426.1 93.4C1431.7 95.2 1437.7 101.3 1441.1 106.2C1444.5 111.1 1446.2 118.1 1446.2 122.8C1446.2 127.4 1443.8 131.6 1441.1 134.1C1438.4 136.6 1433.5 135.4 1430.1 137.8C1426.7 140.2 1424.0 145.5 1420.9 148.8C1417.9 152.1 1415.2 156.5 1411.7 157.6C1408.3 158.8 1404.4 158.2 1400.4 155.8C1396.3 153.4 1390.6 148.2 1387.5 143.3C1384.5 138.4 1381.5 132.0 1382.0 126.4Z" fill="#000" fill-opacity="0.95"/><path d="M1429.7 137.4C1433.7 131.9 1442.0 122.8 1446.2 122.8C1450.5 122.8 1456.3 132.5 1455.4 137.4C1454.5 142.3 1446.2 149.1 1440.7 152.1C1435.2 155.2 1424.2 158.2 1422.4 155.8C1420.6 153.3 1425.8 142.9 1429.7 137.4Z" fill="#000" fill-opacity="0.3"/></g>
<g filter="url(#f24)"><path d="M1499.5 122.8C1499.8 115.4 1506.8 104.1 1511.9 97.1C1517.1 90.0 1522.6 84.2 1530.3 80.6C1538.0 76.9 1549.2 75.0 1558.2 75.0C1567.1 75.0 1578.0 76.0 1583.9 80.6C1589.7 85.1 1592.1 95.5 1593.0 102.6C1593.9 109.6 1592.1 115.7 1589.4 122.8C1586.7 129.8 1582.0 138.7 1576.9 145.1C1571.7 151.6 1565.3 157.7 1558.5 161.3C1551.7 164.9 1541.8 167.0 1536.2 166.8C1530.5 166.5 1529.1 164.0 1524.8 159.8C1520.4 155.6 1514.3 147.6 1510.1 141.5C1505.9 135.3 1499.1 130.2 1499.5 122.8Z" fill="#000" fill-opacity="1.0"/><path d="M1496.7 186.1C1495.3 182.8 1498.1 170.4 1502.2 166.8C1506.3 163.2 1517.5 162.7 1521.5 164.6C1525.4 166.5 1527.8 174.6 1526.1 178.2C1524.3 181.7 1515.7 184.7 1510.8 186.1C1505.9 187.4 1498.1 189.3 1496.7 186.1Z" fill="#000" fill-opacity="1.0"/><path d="M1480.2 182.4C1479.1 179.2 1483.8 163.3 1486.2 159.5C1488.7 155.6 1493.8 156.3 1494.9 159.5C1496.0 162.6 1495.3 174.7 1492.8 178.5C1490.4 182.4 1481.3 185.6 1480.2 182.4Z" fill="#000" fill-opacity="0.9"/><path d="M1437.1 154.9C1446.2 154.5 1482.9 156.3 1492.1 157.6C1501.3 158.9 1501.3 162.4 1492.1 162.8C1482.9 163.1 1446.2 161.1 1437.1 159.8C1427.9 158.5 1427.9 155.2 1437.1 154.9Z" fill="#000" fill-opacity="0.4"/><path d="M1552.3 58.9C1553.3 57.0 1558.7 55.6 1561.8 55.6C1565.0 55.6 1570.7 56.8 1571.4 58.9C1572.1 61.0 1568.4 66.7 1565.9 68.1C1563.3 69.5 1558.2 68.7 1556.0 67.2C1553.7 65.6 1551.3 60.8 1552.3 58.9Z" fill="#000" fill-opacity="0.85"/><path d="M1649.5 151.4C1650.8 150.1 1662.0 149.1 1668.3 149.2C1674.5 149.3 1684.5 150.8 1687.0 152.1C1689.5 153.4 1687.7 156.2 1683.3 157.1C1679.0 157.9 1666.6 158.0 1660.9 157.1C1655.3 156.1 1648.3 152.7 1649.5 151.4Z" fill="#000" fill-opacity="0.75"/><ellipse cx="1694.9" cy="116.9" rx="5.1" ry="1.7" fill="#000" fill-opacity="0.9" transform="rotate(-28 1694.9 116.9)"/><ellipse cx="1479.3" cy="190.6" rx="0.9" ry="3.7" fill="#000" fill-opacity="0.7" transform="rotate(-20 1479.3 190.6)"/><ellipse cx="1411.4" cy="203.5" rx="4.0" ry="1.1" fill="#000" fill-opacity="0.7" transform="rotate(-45 1411.4 203.5)"/></g>
<g filter="url(#f25)"><path d="M1590.8 82.8C1593.0 80.6 1600.6 79.6 1605.9 80.6C1611.2 81.5 1619.7 84.8 1622.8 88.3C1625.8 91.7 1625.8 98.1 1624.2 101.1C1622.6 104.1 1617.6 106.2 1613.2 106.2C1608.9 106.2 1601.5 103.2 1598.2 101.1C1594.8 99.0 1594.3 96.5 1593.0 93.4C1591.8 90.3 1588.7 84.9 1590.8 82.8Z" fill="#000" fill-opacity="0.95"/></g>
<g filter="url(#f26)"><path d="M1620.6 93.8C1623.3 90.6 1629.7 87.8 1635.2 87.0C1640.7 86.1 1647.8 86.2 1653.6 88.8C1659.4 91.4 1668.8 98.1 1670.1 102.6C1671.4 107.0 1665.9 112.4 1661.3 115.4C1656.7 118.5 1648.2 120.3 1642.6 120.9C1636.9 121.5 1631.5 121.5 1627.5 119.1C1623.6 116.6 1619.9 110.5 1618.7 106.2C1617.6 102.0 1617.8 97.0 1620.6 93.8Z" fill="#000" fill-opacity="1.0"/></g>
<g filter="url(#f27)"><path d="M1589.4 134.1C1589.9 129.2 1593.0 122.2 1596.3 119.1C1599.7 116.0 1605.2 114.2 1609.5 115.4C1613.9 116.6 1620.6 122.1 1622.4 126.4C1624.2 130.8 1623.3 137.2 1620.6 141.5C1617.8 145.8 1610.5 150.9 1605.9 152.1C1601.3 153.3 1595.8 151.8 1593.0 148.8C1590.3 145.8 1588.8 139.1 1589.4 134.1Z" fill="#000" fill-opacity="0.95"/><path d="M1580.2 122.8C1582.3 115.0 1593.0 108.7 1596.7 109.9C1600.4 111.1 1601.9 121.5 1602.2 130.1C1602.5 138.7 1601.6 156.9 1598.5 161.3C1595.5 165.7 1586.9 163.1 1583.9 156.7C1580.8 150.3 1578.0 130.6 1580.2 122.8Z" fill="#000" fill-opacity="0.45"/></g>
<g filter="url(#f28)"><path d="M1396.7 56.7C1401.3 48.4 1416.3 43.2 1429.7 40.2C1443.2 37.1 1462.1 35.0 1477.4 38.3C1492.7 41.7 1511.7 53.6 1521.5 60.4C1531.3 67.1 1536.8 69.5 1536.2 78.7C1535.5 87.9 1522.7 103.8 1517.8 115.4C1512.9 127.0 1511.7 139.3 1506.8 148.4C1501.9 157.6 1497.6 164.3 1488.4 170.5C1479.3 176.6 1461.5 185.1 1451.7 185.1C1442.0 185.1 1435.8 176.6 1429.7 170.5C1423.6 164.3 1420.6 156.4 1415.0 148.4C1409.5 140.5 1398.8 132.5 1396.7 122.8C1394.6 113.0 1402.2 100.7 1402.2 89.7C1402.2 78.7 1392.1 65.0 1396.7 56.7Z" fill="#000" fill-opacity="0.42"/><path d="M1420.6 82.4C1421.8 78.1 1434.3 82.4 1440.7 86.1C1447.2 89.7 1452.4 98.3 1459.1 104.4C1465.8 110.5 1473.8 120.3 1481.1 122.8C1488.4 125.2 1497.0 123.4 1503.1 119.1C1509.2 114.8 1514.1 103.5 1517.8 97.1C1521.5 90.6 1522.1 83.3 1525.1 80.6C1528.2 77.8 1536.2 73.5 1536.2 80.6C1536.2 87.6 1530.0 110.8 1525.1 122.8C1520.2 134.7 1515.4 144.2 1506.8 152.1C1498.2 160.1 1484.2 169.2 1473.8 170.5C1463.4 171.7 1449.9 165.6 1444.4 159.5C1438.9 153.3 1442.6 141.7 1440.7 133.8C1438.9 125.8 1436.8 120.3 1433.4 111.7C1430.0 103.2 1419.3 86.7 1420.6 82.4Z" fill="#000" fill-opacity="0.3"/></g>
<g filter="url(#f29)"><path d="M1503.1 97.1C1505.0 91.6 1516.6 79.9 1525.1 75.0C1533.7 70.2 1545.3 68.0 1554.5 67.7C1563.7 67.4 1579.0 70.8 1580.2 73.2C1581.4 75.7 1569.8 79.6 1561.8 82.4C1553.9 85.1 1540.4 85.4 1532.5 89.7C1524.5 94.0 1519.0 106.9 1514.1 108.1C1509.2 109.3 1501.3 102.6 1503.1 97.1Z" fill="#000" fill-opacity="0.28"/><path d="M1488.4 159.5C1492.1 156.4 1512.9 166.2 1525.1 166.8C1537.4 167.4 1552.1 166.2 1561.8 163.1C1571.6 160.1 1580.8 147.8 1583.9 148.4C1586.9 149.1 1586.9 161.3 1580.2 166.8C1573.5 172.3 1556.3 178.4 1543.5 181.5C1530.6 184.5 1512.3 188.8 1503.1 185.1C1493.9 181.5 1484.8 162.5 1488.4 159.5Z" fill="#000" fill-opacity="0.25"/></g>
<g filter="url(#f30)"><path d="M1578.4 122.8C1580.6 114.5 1592.4 108.1 1596.7 108.1C1601.0 108.1 1603.4 114.2 1604.0 122.8C1604.7 131.3 1603.9 153.6 1600.4 159.5C1596.9 165.3 1586.6 163.7 1582.9 157.6C1579.3 151.5 1576.1 131.0 1578.4 122.8Z" fill="#000" fill-opacity="0.4"/></g>
<g filter="url(#f31)"><path d="M1618.7 141.1C1618.9 139.3 1623.1 135.6 1625.1 137.4C1627.2 139.3 1631.0 150.3 1630.8 152.1C1630.7 153.9 1626.2 150.3 1624.2 148.4C1622.2 146.6 1618.6 142.9 1618.7 141.1Z" fill="#000" fill-opacity="0.9"/></g>
<g filter="url(#f32)"><ellipse cx="1593.0" cy="159.8" rx="2.2" ry="1.8" fill="#000" fill-opacity="0.6"/></g>
<defs><filter id="f1" filterUnits="userSpaceOnUse" x="0" y="0" width="640" height="460" color-interpolation-filters="sRGB">
<feGaussianBlur in="SourceAlpha" stdDeviation="3.2" result="b1"/><feGaussianBlur in="SourceAlpha" stdDeviation="8" result="b2"/><feComposite in="b1" in2="b2" operator="arithmetic" k1="0" k2="0.70" k3="0.30" k4="0" result="b"/>
<feTurbulence type="fractalNoise" baseFrequency="0.83 0.71" numOctaves="2" seed="3" result="n"/>
<feColorMatrix in="n" type="matrix" values="0 0 0 0 0 0 0 0 0 0 0 0 0 0 0 1.5 1.5 0 0 -1.000" result="na"/>
<feTurbulence type="fractalNoise" baseFrequency="0.035" numOctaves="3" seed="53" result="nl"/><feDisplacementMap in="b" in2="nl" scale="16" xChannelSelector="R" yChannelSelector="G" result="bd"/><feColorMatrix in="nl" type="matrix" values="0 0 0 0 0 0 0 0 0 0 0 0 0 0 0 0.44 0 0 0 0.280" result="nla"/><feComposite in="na" in2="nla" operator="arithmetic" k1="0" k2="1" k3="1" k4="-0.5" result="nb"/>
<feComposite in="bd" in2="nb" operator="arithmetic" k1="0" k2="1.74" k3="-0.9" k4="-0.1" result="d"/>
<feColorMatrix in="d" type="matrix" values="0 0 0 0 0 0 0 0 0 0 0 0 0 0 0 0 0 0 1 0" result="m"/>
<feFlood flood-color="#d3d3d3" result="c"/>
<feComposite in="c" in2="m" operator="in"/>
<feGaussianBlur stdDeviation="0.5"/>
</filter><filter id="f2" filterUnits="userSpaceOnUse" x="0" y="0" width="640" height="460" color-interpolation-filters="sRGB">
<feGaussianBlur in="SourceAlpha" stdDeviation="1.5" result="b"/>
<feTurbulence type="fractalNoise" baseFrequency="0.83 0.71" numOctaves="2" seed="9" result="n"/>
<feColorMatrix in="n" type="matrix" values="0 0 0 0 0 0 0 0 0 0 0 0 0 0 0 1.5 1.5 0 0 -1.000" result="na"/>

<feComposite in="b" in2="na" operator="arithmetic" k1="0" k2="1.0" k3="-1" k4="0" result="d"/>
<feColorMatrix in="d" type="matrix" values="0 0 0 0 0 0 0 0 0 0 0 0 0 0 0 0 0 0 4 0" result="m"/>
<feFlood flood-color="#5a6a6a" result="c"/>
<feComposite in="c" in2="m" operator="in"/>
<feGaussianBlur stdDeviation="0.45"/>
</filter><filter id="f3" filterUnits="userSpaceOnUse" x="0" y="0" width="640" height="460" color-interpolation-filters="sRGB">
<feGaussianBlur in="SourceAlpha" stdDeviation="1.5" result="b"/>
<feTurbulence type="fractalNoise" baseFrequency="0.83 0.71" numOctaves="2" seed="10" result="n"/>
<feColorMatrix in="n" type="matrix" values="0 0 0 0 0 0 0 0 0 0 0 0 0 0 0 1.5 1.5 0 0 -1.000" result="na"/>

<feComposite in="b" in2="na" operator="arithmetic" k1="0" k2="1.0" k3="-1" k4="0" result="d"/>
<feColorMatrix in="d" type="matrix" values="0 0 0 0 0 0 0 0 0 0 0 0 0 0 0 0 0 0 4 0" result="m"/>
<feFlood flood-color="#22c0a2" result="c"/>
<feComposite in="c" in2="m" operator="in"/>
<feGaussianBlur stdDeviation="0.45"/>
</filter><filter id="f4" filterUnits="userSpaceOnUse" x="0" y="0" width="640" height="460" color-interpolation-filters="sRGB">
<feGaussianBlur in="SourceAlpha" stdDeviation="5" result="b1"/><feGaussianBlur in="SourceAlpha" stdDeviation="14" result="b2"/><feComposite in="b1" in2="b2" operator="arithmetic" k1="0" k2="0.60" k3="0.40" k4="0" result="b"/>
<feTurbulence type="fractalNoise" baseFrequency="0.83 0.71" numOctaves="2" seed="11" result="n"/>
<feColorMatrix in="n" type="matrix" values="0 0 0 0 0 0 0 0 0 0 0 0 0 0 0 1.5 1.5 0 0 -1.000" result="na"/>

<feComposite in="b" in2="na" operator="arithmetic" k1="0" k2="1.0" k3="-1" k4="0" result="d"/>
<feColorMatrix in="d" type="matrix" values="0 0 0 0 0 0 0 0 0 0 0 0 0 0 0 0 0 0 4 0" result="m"/>
<feFlood flood-color="#c4241c" result="c"/>
<feComposite in="c" in2="m" operator="in"/>
<feGaussianBlur stdDeviation="0.45"/>
</filter><filter id="f5" filterUnits="userSpaceOnUse" x="0" y="0" width="640" height="460" color-interpolation-filters="sRGB">
<feGaussianBlur in="SourceAlpha" stdDeviation="5" result="b1"/><feGaussianBlur in="SourceAlpha" stdDeviation="14" result="b2"/><feComposite in="b1" in2="b2" operator="arithmetic" k1="0" k2="0.60" k3="0.40" k4="0" result="b"/>
<feTurbulence type="fractalNoise" baseFrequency="0.83 0.71" numOctaves="2" seed="12" result="n"/>
<feColorMatrix in="n" type="matrix" values="0 0 0 0 0 0 0 0 0 0 0 0 0 0 0 1.5 1.5 0 0 -1.000" result="na"/>

<feComposite in="b" in2="na" operator="arithmetic" k1="0" k2="1.0" k3="-1" k4="0" result="d"/>
<feColorMatrix in="d" type="matrix" values="0 0 0 0 0 0 0 0 0 0 0 0 0 0 0 0 0 0 4 0" result="m"/>
<feFlood flood-color="#6e6e6e" result="c"/>
<feComposite in="c" in2="m" operator="in"/>
<feGaussianBlur stdDeviation="0.45"/>
</filter><filter id="f6" filterUnits="userSpaceOnUse" x="0" y="0" width="640" height="460" color-interpolation-filters="sRGB">
<feGaussianBlur in="SourceAlpha" stdDeviation="5" result="b1"/><feGaussianBlur in="SourceAlpha" stdDeviation="14" result="b2"/><feComposite in="b1" in2="b2" operator="arithmetic" k1="0" k2="0.60" k3="0.40" k4="0" result="b"/>
<feTurbulence type="fractalNoise" baseFrequency="0.83 0.71" numOctaves="2" seed="13" result="n"/>
<feColorMatrix in="n" type="matrix" values="0 0 0 0 0 0 0 0 0 0 0 0 0 0 0 1.5 1.5 0 0 -1.000" result="na"/>

<feComposite in="b" in2="na" operator="arithmetic" k1="0" k2="1.0" k3="-1" k4="0" result="d"/>
<feColorMatrix in="d" type="matrix" values="0 0 0 0 0 0 0 0 0 0 0 0 0 0 0 0 0 0 4 0" result="m"/>
<feFlood flood-color="#56475f" result="c"/>
<feComposite in="c" in2="m" operator="in"/>
<feGaussianBlur stdDeviation="0.45"/>
</filter><filter id="f7" filterUnits="userSpaceOnUse" x="0" y="0" width="640" height="460" color-interpolation-filters="sRGB">
<feGaussianBlur in="SourceAlpha" stdDeviation="5" result="b1"/><feGaussianBlur in="SourceAlpha" stdDeviation="14" result="b2"/><feComposite in="b1" in2="b2" operator="arithmetic" k1="0" k2="0.60" k3="0.40" k4="0" result="b"/>
<feTurbulence type="fractalNoise" baseFrequency="0.83 0.71" numOctaves="2" seed="14" result="n"/>
<feColorMatrix in="n" type="matrix" values="0 0 0 0 0 0 0 0 0 0 0 0 0 0 0 1.5 1.5 0 0 -1.000" result="na"/>

<feComposite in="b" in2="na" operator="arithmetic" k1="0" k2="1.0" k3="-1" k4="0" result="d"/>
<feColorMatrix in="d" type="matrix" values="0 0 0 0 0 0 0 0 0 0 0 0 0 0 0 0 0 0 4 0" result="m"/>
<feFlood flood-color="#22c2a4" result="c"/>
<feComposite in="c" in2="m" operator="in"/>
<feGaussianBlur stdDeviation="0.45"/>
</filter><filter id="f8" filterUnits="userSpaceOnUse" x="0" y="0" width="640" height="460" color-interpolation-filters="sRGB">
<feGaussianBlur in="SourceAlpha" stdDeviation="5" result="b1"/><feGaussianBlur in="SourceAlpha" stdDeviation="14" result="b2"/><feComposite in="b1" in2="b2" operator="arithmetic" k1="0" k2="0.60" k3="0.40" k4="0" result="b"/>
<feTurbulence type="fractalNoise" baseFrequency="0.83 0.71" numOctaves="2" seed="15" result="n"/>
<feColorMatrix in="n" type="matrix" values="0 0 0 0 0 0 0 0 0 0 0 0 0 0 0 1.5 1.5 0 0 -1.000" result="na"/>

<feComposite in="b" in2="na" operator="arithmetic" k1="0" k2="1.0" k3="-1" k4="0" result="d"/>
<feColorMatrix in="d" type="matrix" values="0 0 0 0 0 0 0 0 0 0 0 0 0 0 0 0 0 0 4 0" result="m"/>
<feFlood flood-color="#58d8f0" result="c"/>
<feComposite in="c" in2="m" operator="in"/>
<feGaussianBlur stdDeviation="0.45"/>
</filter><filter id="f9" filterUnits="userSpaceOnUse" x="0" y="0" width="640" height="460" color-interpolation-filters="sRGB">
<feGaussianBlur in="SourceAlpha" stdDeviation="5" result="b1"/><feGaussianBlur in="SourceAlpha" stdDeviation="14" result="b2"/><feComposite in="b1" in2="b2" operator="arithmetic" k1="0" k2="0.60" k3="0.40" k4="0" result="b"/>
<feTurbulence type="fractalNoise" baseFrequency="0.83 0.71" numOctaves="2" seed="16" result="n"/>
<feColorMatrix in="n" type="matrix" values="0 0 0 0 0 0 0 0 0 0 0 0 0 0 0 1.5 1.5 0 0 -1.000" result="na"/>

<feComposite in="b" in2="na" operator="arithmetic" k1="0" k2="1.0" k3="-1" k4="0" result="d"/>
<feColorMatrix in="d" type="matrix" values="0 0 0 0 0 0 0 0 0 0 0 0 0 0 0 0 0 0 4 0" result="m"/>
<feFlood flood-color="#2a2cb0" result="c"/>
<feComposite in="c" in2="m" operator="in"/>
<feGaussianBlur stdDeviation="0.45"/>
</filter><filter id="f10" filterUnits="userSpaceOnUse" x="0" y="0" width="640" height="460" color-interpolation-filters="sRGB">
<feGaussianBlur in="SourceAlpha" stdDeviation="5" result="b1"/><feGaussianBlur in="SourceAlpha" stdDeviation="14" result="b2"/><feComposite in="b1" in2="b2" operator="arithmetic" k1="0" k2="0.60" k3="0.40" k4="0" result="b"/>
<feTurbulence type="fractalNoise" baseFrequency="0.83 0.71" numOctaves="2" seed="17" result="n"/>
<feColorMatrix in="n" type="matrix" values="0 0 0 0 0 0 0 0 0 0 0 0 0 0 0 1.5 1.5 0 0 -1.000" result="na"/>

<feComposite in="b" in2="na" operator="arithmetic" k1="0" k2="1.0" k3="-1" k4="0" result="d"/>
<feColorMatrix in="d" type="matrix" values="0 0 0 0 0 0 0 0 0 0 0 0 0 0 0 0 0 0 4 0" result="m"/>
<feFlood flood-color="#f23cf2" result="c"/>
<feComposite in="c" in2="m" operator="in"/>
<feGaussianBlur stdDeviation="0.45"/>
</filter><filter id="f11" filterUnits="userSpaceOnUse" x="0" y="0" width="640" height="460" color-interpolation-filters="sRGB">
<feGaussianBlur in="SourceAlpha" stdDeviation="2.2" result="b"/>
<feTurbulence type="fractalNoise" baseFrequency="0.83 0.71" numOctaves="2" seed="18" result="n"/>
<feColorMatrix in="n" type="matrix" values="0 0 0 0 0 0 0 0 0 0 0 0 0 0 0 1.5 1.5 0 0 -1.000" result="na"/>

<feComposite in="b" in2="na" operator="arithmetic" k1="0" k2="1.0" k3="-1" k4="0" result="d"/>
<feColorMatrix in="d" type="matrix" values="0 0 0 0 0 0 0 0 0 0 0 0 0 0 0 0 0 0 4 0" result="m"/>
<feFlood flood-color="#6a2a9a" result="c"/>
<feComposite in="c" in2="m" operator="in"/>
<feGaussianBlur stdDeviation="0.45"/>
</filter><filter id="f12" filterUnits="userSpaceOnUse" x="0" y="0" width="640" height="460" color-interpolation-filters="sRGB">
<feGaussianBlur in="SourceAlpha" stdDeviation="1.4" result="b"/>
<feTurbulence type="fractalNoise" baseFrequency="0.83 0.71" numOctaves="2" seed="61" result="n"/>
<feColorMatrix in="n" type="matrix" values="0 0 0 0 0 0 0 0 0 0 0 0 0 0 0 1.5 1.5 0 0 -1.000" result="na"/>

<feComposite in="b" in2="na" operator="arithmetic" k1="0" k2="1.0" k3="-1" k4="0" result="d"/>
<feColorMatrix in="d" type="matrix" values="0 0 0 0 0 0 0 0 0 0 0 0 0 0 0 0 0 0 4 0" result="m"/>
<feFlood flood-color="#c4241c" result="c"/>
<feComposite in="c" in2="m" operator="in"/>
<feGaussianBlur stdDeviation="0.45"/>
</filter><filter id="f13" filterUnits="userSpaceOnUse" x="0" y="0" width="640" height="460" color-interpolation-filters="sRGB">
<feGaussianBlur in="SourceAlpha" stdDeviation="1.4" result="b"/>
<feTurbulence type="fractalNoise" baseFrequency="0.83 0.71" numOctaves="2" seed="62" result="n"/>
<feColorMatrix in="n" type="matrix" values="0 0 0 0 0 0 0 0 0 0 0 0 0 0 0 1.5 1.5 0 0 -1.000" result="na"/>

<feComposite in="b" in2="na" operator="arithmetic" k1="0" k2="1.0" k3="-1" k4="0" result="d"/>
<feColorMatrix in="d" type="matrix" values="0 0 0 0 0 0 0 0 0 0 0 0 0 0 0 0 0 0 4 0" result="m"/>
<feFlood flood-color="#56475f" result="c"/>
<feComposite in="c" in2="m" operator="in"/>
<feGaussianBlur stdDeviation="0.45"/>
</filter><filter id="f14" filterUnits="userSpaceOnUse" x="0" y="0" width="640" height="460" color-interpolation-filters="sRGB">
<feGaussianBlur in="SourceAlpha" stdDeviation="1.4" result="b"/>
<feTurbulence type="fractalNoise" baseFrequency="0.83 0.71" numOctaves="2" seed="63" result="n"/>
<feColorMatrix in="n" type="matrix" values="0 0 0 0 0 0 0 0 0 0 0 0 0 0 0 1.5 1.5 0 0 -1.000" result="na"/>

<feComposite in="b" in2="na" operator="arithmetic" k1="0" k2="1.0" k3="-1" k4="0" result="d"/>
<feColorMatrix in="d" type="matrix" values="0 0 0 0 0 0 0 0 0 0 0 0 0 0 0 0 0 0 4 0" result="m"/>
<feFlood flood-color="#22c2a4" result="c"/>
<feComposite in="c" in2="m" operator="in"/>
<feGaussianBlur stdDeviation="0.45"/>
</filter><filter id="f15" filterUnits="userSpaceOnUse" x="1130" y="0" width="723" height="470" color-interpolation-filters="sRGB">
<feGaussianBlur in="SourceAlpha" stdDeviation="3.2" result="b1"/><feGaussianBlur in="SourceAlpha" stdDeviation="8" result="b2"/><feComposite in="b1" in2="b2" operator="arithmetic" k1="0" k2="0.70" k3="0.30" k4="0" result="b"/>
<feTurbulence type="fractalNoise" baseFrequency="0.83 0.71" numOctaves="2" seed="21" result="n"/>
<feColorMatrix in="n" type="matrix" values="0 0 0 0 0 0 0 0 0 0 0 0 0 0 0 1.5 1.5 0 0 -1.000" result="na"/>
<feTurbulence type="fractalNoise" baseFrequency="0.035" numOctaves="3" seed="71" result="nl"/><feDisplacementMap in="b" in2="nl" scale="14" xChannelSelector="R" yChannelSelector="G" result="bd"/><feColorMatrix in="nl" type="matrix" values="0 0 0 0 0 0 0 0 0 0 0 0 0 0 0 0.4 0 0 0 0.300" result="nla"/><feComposite in="na" in2="nla" operator="arithmetic" k1="0" k2="1" k3="1" k4="-0.5" result="nb"/>
<feComposite in="bd" in2="nb" operator="arithmetic" k1="0" k2="1.45" k3="-0.6" k4="-0.05" result="d"/>
<feColorMatrix in="d" type="matrix" values="0 0 0 0 0 0 0 0 0 0 0 0 0 0 0 0 0 0 1 0" result="m"/>
<feFlood flood-color="#d3d3d3" result="c"/>
<feComposite in="c" in2="m" operator="in"/>
<feGaussianBlur stdDeviation="0.6"/>
</filter><filter id="f16" filterUnits="userSpaceOnUse" x="1130" y="0" width="723" height="470" color-interpolation-filters="sRGB">
<feGaussianBlur in="SourceAlpha" stdDeviation="1.6" result="b"/>
<feTurbulence type="fractalNoise" baseFrequency="0.83 0.71" numOctaves="2" seed="22" result="n"/>
<feColorMatrix in="n" type="matrix" values="0 0 0 0 0 0 0 0 0 0 0 0 0 0 0 1.5 1.5 0 0 -1.000" result="na"/>

<feComposite in="b" in2="na" operator="arithmetic" k1="0" k2="1.0" k3="-1" k4="0" result="d"/>
<feColorMatrix in="d" type="matrix" values="0 0 0 0 0 0 0 0 0 0 0 0 0 0 0 0 0 0 4 0" result="m"/>
<feFlood flood-color="#6a8a86" result="c"/>
<feComposite in="c" in2="m" operator="in"/>
<feGaussianBlur stdDeviation="0.45"/>
</filter><filter id="f17" filterUnits="userSpaceOnUse" x="1130" y="0" width="723" height="470" color-interpolation-filters="sRGB">
<feGaussianBlur in="SourceAlpha" stdDeviation="1.2" result="b"/>
<feTurbulence type="fractalNoise" baseFrequency="0.83 0.71" numOctaves="2" seed="23" result="n"/>
<feColorMatrix in="n" type="matrix" values="0 0 0 0 0 0 0 0 0 0 0 0 0 0 0 1.5 1.5 0 0 -1.000" result="na"/>

<feComposite in="b" in2="na" operator="arithmetic" k1="0" k2="1.0" k3="-1" k4="0" result="d"/>
<feColorMatrix in="d" type="matrix" values="0 0 0 0 0 0 0 0 0 0 0 0 0 0 0 0 0 0 4 0" result="m"/>
<feFlood flood-color="#22c0a2" result="c"/>
<feComposite in="c" in2="m" operator="in"/>
<feGaussianBlur stdDeviation="0.45"/>
</filter><filter id="f18" filterUnits="userSpaceOnUse" x="1130" y="0" width="723" height="470" color-interpolation-filters="sRGB">
<feGaussianBlur in="SourceAlpha" stdDeviation="1.0" result="b"/>
<feTurbulence type="fractalNoise" baseFrequency="0.83 0.71" numOctaves="2" seed="24" result="n"/>
<feColorMatrix in="n" type="matrix" values="0 0 0 0 0 0 0 0 0 0 0 0 0 0 0 1.5 1.5 0 0 -1.000" result="na"/>

<feComposite in="b" in2="na" operator="arithmetic" k1="0" k2="1.0" k3="-1" k4="0" result="d"/>
<feColorMatrix in="d" type="matrix" values="0 0 0 0 0 0 0 0 0 0 0 0 0 0 0 0 0 0 4 0" result="m"/>
<feFlood flood-color="#555" result="c"/>
<feComposite in="c" in2="m" operator="in"/>
<feGaussianBlur stdDeviation="0.45"/>
</filter><filter id="f19" filterUnits="userSpaceOnUse" x="1130" y="0" width="723" height="470" color-interpolation-filters="sRGB">
<feGaussianBlur in="SourceAlpha" stdDeviation="5" result="b1"/><feGaussianBlur in="SourceAlpha" stdDeviation="13" result="b2"/><feComposite in="b1" in2="b2" operator="arithmetic" k1="0" k2="0.60" k3="0.40" k4="0" result="b"/>
<feTurbulence type="fractalNoise" baseFrequency="0.83 0.71" numOctaves="2" seed="31" result="n"/>
<feColorMatrix in="n" type="matrix" values="0 0 0 0 0 0 0 0 0 0 0 0 0 0 0 1.0 1.0 0 0 -0.500" result="na"/>

<feComposite in="b" in2="na" operator="arithmetic" k1="0" k2="1.15" k3="-0.5" k4="0" result="d"/>
<feColorMatrix in="d" type="matrix" values="0 0 0 0 0 0 0 0 0 0 0 0 0 0 0 0 0 0 1.4 0" result="m"/>
<feFlood flood-color="#707070" result="c"/>
<feComposite in="c" in2="m" operator="in"/>
<feGaussianBlur stdDeviation="0.6"/>
</filter><filter id="f20" filterUnits="userSpaceOnUse" x="1130" y="0" width="723" height="470" color-interpolation-filters="sRGB">
<feGaussianBlur in="SourceAlpha" stdDeviation="2.5" result="b1"/><feGaussianBlur in="SourceAlpha" stdDeviation="6" result="b2"/><feComposite in="b1" in2="b2" operator="arithmetic" k1="0" k2="0.60" k3="0.40" k4="0" result="b"/>
<feTurbulence type="fractalNoise" baseFrequency="0.83 0.71" numOctaves="2" seed="32" result="n"/>
<feColorMatrix in="n" type="matrix" values="0 0 0 0 0 0 0 0 0 0 0 0 0 0 0 1.0 1.0 0 0 -0.500" result="na"/>

<feComposite in="b" in2="na" operator="arithmetic" k1="0" k2="1.3" k3="-0.5" k4="0" result="d"/>
<feColorMatrix in="d" type="matrix" values="0 0 0 0 0 0 0 0 0 0 0 0 0 0 0 0 0 0 1.4 0" result="m"/>
<feFlood flood-color="#b0708e" result="c"/>
<feComposite in="c" in2="m" operator="in"/>
<feGaussianBlur stdDeviation="0.6"/>
</filter><filter id="f21" filterUnits="userSpaceOnUse" x="1130" y="0" width="723" height="470" color-interpolation-filters="sRGB">
<feGaussianBlur in="SourceAlpha" stdDeviation="1.6" result="b"/>
<feTurbulence type="fractalNoise" baseFrequency="0.83 0.71" numOctaves="2" seed="33" result="n"/>
<feColorMatrix in="n" type="matrix" values="0 0 0 0 0 0 0 0 0 0 0 0 0 0 0 1.5 1.5 0 0 -1.000" result="na"/>

<feComposite in="b" in2="na" operator="arithmetic" k1="0" k2="1.0" k3="-1" k4="0" result="d"/>
<feColorMatrix in="d" type="matrix" values="0 0 0 0 0 0 0 0 0 0 0 0 0 0 0 0 0 0 4 0" result="m"/>
<feFlood flood-color="#f060b0" result="c"/>
<feComposite in="c" in2="m" operator="in"/>
<feGaussianBlur stdDeviation="0.45"/>
</filter><filter id="f22" filterUnits="userSpaceOnUse" x="1130" y="0" width="723" height="470" color-interpolation-filters="sRGB">
<feGaussianBlur in="SourceAlpha" stdDeviation="5" result="b1"/><feGaussianBlur in="SourceAlpha" stdDeviation="13" result="b2"/><feComposite in="b1" in2="b2" operator="arithmetic" k1="0" k2="0.60" k3="0.40" k4="0" result="b"/>
<feTurbulence type="fractalNoise" baseFrequency="0.83 0.71" numOctaves="2" seed="34" result="n"/>
<feColorMatrix in="n" type="matrix" values="0 0 0 0 0 0 0 0 0 0 0 0 0 0 0 1.0 1.0 0 0 -0.500" result="na"/>

<feComposite in="b" in2="na" operator="arithmetic" k1="0" k2="1.02" k3="-0.5" k4="0" result="d"/>
<feColorMatrix in="d" type="matrix" values="0 0 0 0 0 0 0 0 0 0 0 0 0 0 0 0 0 0 1.4 0" result="m"/>
<feFlood flood-color="#c22a22" result="c"/>
<feComposite in="c" in2="m" operator="in"/>
<feGaussianBlur stdDeviation="0.6"/>
</filter><filter id="f23" filterUnits="userSpaceOnUse" x="1130" y="0" width="723" height="470" color-interpolation-filters="sRGB">
<feGaussianBlur in="SourceAlpha" stdDeviation="5" result="b1"/><feGaussianBlur in="SourceAlpha" stdDeviation="13" result="b2"/><feComposite in="b1" in2="b2" operator="arithmetic" k1="0" k2="0.60" k3="0.40" k4="0" result="b"/>
<feTurbulence type="fractalNoise" baseFrequency="0.83 0.71" numOctaves="2" seed="35" result="n"/>
<feColorMatrix in="n" type="matrix" values="0 0 0 0 0 0 0 0 0 0 0 0 0 0 0 1.0 1.0 0 0 -0.500" result="na"/>

<feComposite in="b" in2="na" operator="arithmetic" k1="0" k2="1.15" k3="-0.5" k4="0" result="d"/>
<feColorMatrix in="d" type="matrix" values="0 0 0 0 0 0 0 0 0 0 0 0 0 0 0 0 0 0 1.4 0" result="m"/>
<feFlood flood-color="#54445f" result="c"/>
<feComposite in="c" in2="m" operator="in"/>
<feGaussianBlur stdDeviation="0.6"/>
</filter><filter id="f24" filterUnits="userSpaceOnUse" x="1130" y="0" width="723" height="470" color-interpolation-filters="sRGB">
<feGaussianBlur in="SourceAlpha" stdDeviation="4" result="b1"/><feGaussianBlur in="SourceAlpha" stdDeviation="11" result="b2"/><feComposite in="b1" in2="b2" operator="arithmetic" k1="0" k2="0.65" k3="0.35" k4="0" result="b"/>
<feTurbulence type="fractalNoise" baseFrequency="0.83 0.71" numOctaves="2" seed="36" result="n"/>
<feColorMatrix in="n" type="matrix" values="0 0 0 0 0 0 0 0 0 0 0 0 0 0 0 1.0 1.0 0 0 -0.500" result="na"/>

<feComposite in="b" in2="na" operator="arithmetic" k1="0" k2="1.2" k3="-0.5" k4="0" result="d"/>
<feColorMatrix in="d" type="matrix" values="0 0 0 0 0 0 0 0 0 0 0 0 0 0 0 0 0 0 1.4 0" result="m"/>
<feFlood flood-color="#1fbf9f" result="c"/>
<feComposite in="c" in2="m" operator="in"/>
<feGaussianBlur stdDeviation="0.6"/>
</filter><filter id="f25" filterUnits="userSpaceOnUse" x="1130" y="0" width="723" height="470" color-interpolation-filters="sRGB">
<feGaussianBlur in="SourceAlpha" stdDeviation="5" result="b1"/><feGaussianBlur in="SourceAlpha" stdDeviation="13" result="b2"/><feComposite in="b1" in2="b2" operator="arithmetic" k1="0" k2="0.60" k3="0.40" k4="0" result="b"/>
<feTurbulence type="fractalNoise" baseFrequency="0.83 0.71" numOctaves="2" seed="37" result="n"/>
<feColorMatrix in="n" type="matrix" values="0 0 0 0 0 0 0 0 0 0 0 0 0 0 0 1.0 1.0 0 0 -0.500" result="na"/>

<feComposite in="b" in2="na" operator="arithmetic" k1="0" k2="1.15" k3="-0.5" k4="0" result="d"/>
<feColorMatrix in="d" type="matrix" values="0 0 0 0 0 0 0 0 0 0 0 0 0 0 0 0 0 0 1.4 0" result="m"/>
<feFlood flood-color="#3a46c0" result="c"/>
<feComposite in="c" in2="m" operator="in"/>
<feGaussianBlur stdDeviation="0.6"/>
</filter><filter id="f26" filterUnits="userSpaceOnUse" x="1130" y="0" width="723" height="470" color-interpolation-filters="sRGB">
<feGaussianBlur in="SourceAlpha" stdDeviation="5" result="b1"/><feGaussianBlur in="SourceAlpha" stdDeviation="13" result="b2"/><feComposite in="b1" in2="b2" operator="arithmetic" k1="0" k2="0.60" k3="0.40" k4="0" result="b"/>
<feTurbulence type="fractalNoise" baseFrequency="0.83 0.71" numOctaves="2" seed="38" result="n"/>
<feColorMatrix in="n" type="matrix" values="0 0 0 0 0 0 0 0 0 0 0 0 0 0 0 1.0 1.0 0 0 -0.500" result="na"/>

<feComposite in="b" in2="na" operator="arithmetic" k1="0" k2="1.15" k3="-0.5" k4="0" result="d"/>
<feColorMatrix in="d" type="matrix" values="0 0 0 0 0 0 0 0 0 0 0 0 0 0 0 0 0 0 1.4 0" result="m"/>
<feFlood flood-color="#f23cf2" result="c"/>
<feComposite in="c" in2="m" operator="in"/>
<feGaussianBlur stdDeviation="0.6"/>
</filter><filter id="f27" filterUnits="userSpaceOnUse" x="1130" y="0" width="723" height="470" color-interpolation-filters="sRGB">
<feGaussianBlur in="SourceAlpha" stdDeviation="5" result="b1"/><feGaussianBlur in="SourceAlpha" stdDeviation="13" result="b2"/><feComposite in="b1" in2="b2" operator="arithmetic" k1="0" k2="0.60" k3="0.40" k4="0" result="b"/>
<feTurbulence type="fractalNoise" baseFrequency="0.83 0.71" numOctaves="2" seed="39" result="n"/>
<feColorMatrix in="n" type="matrix" values="0 0 0 0 0 0 0 0 0 0 0 0 0 0 0 1.0 1.0 0 0 -0.500" result="na"/>

<feComposite in="b" in2="na" operator="arithmetic" k1="0" k2="1.15" k3="-0.5" k4="0" result="d"/>
<feColorMatrix in="d" type="matrix" values="0 0 0 0 0 0 0 0 0 0 0 0 0 0 0 0 0 0 1.4 0" result="m"/>
<feFlood flood-color="#42d8f6" result="c"/>
<feComposite in="c" in2="m" operator="in"/>
<feGaussianBlur stdDeviation="0.6"/>
</filter><filter id="f28" filterUnits="userSpaceOnUse" x="1130" y="0" width="723" height="470" color-interpolation-filters="sRGB">
<feGaussianBlur in="SourceAlpha" stdDeviation="6" result="b1"/><feGaussianBlur in="SourceAlpha" stdDeviation="14" result="b2"/><feComposite in="b1" in2="b2" operator="arithmetic" k1="0" k2="0.60" k3="0.40" k4="0" result="b"/>
<feTurbulence type="fractalNoise" baseFrequency="0.83 0.71" numOctaves="2" seed="44" result="n"/>
<feColorMatrix in="n" type="matrix" values="0 0 0 0 0 0 0 0 0 0 0 0 0 0 0 1.5 1.5 0 0 -1.000" result="na"/>

<feComposite in="b" in2="na" operator="arithmetic" k1="0" k2="1.0" k3="-1" k4="0" result="d"/>
<feColorMatrix in="d" type="matrix" values="0 0 0 0 0 0 0 0 0 0 0 0 0 0 0 0 0 0 3 0" result="m"/>
<feFlood flood-color="#8a8a8a" result="c"/>
<feComposite in="c" in2="m" operator="in"/>
<feGaussianBlur stdDeviation="0.55"/>
</filter><filter id="f29" filterUnits="userSpaceOnUse" x="1130" y="0" width="723" height="470" color-interpolation-filters="sRGB">
<feGaussianBlur in="SourceAlpha" stdDeviation="5" result="b1"/><feGaussianBlur in="SourceAlpha" stdDeviation="12" result="b2"/><feComposite in="b1" in2="b2" operator="arithmetic" k1="0" k2="0.60" k3="0.40" k4="0" result="b"/>
<feTurbulence type="fractalNoise" baseFrequency="0.83 0.71" numOctaves="2" seed="45" result="n"/>
<feColorMatrix in="n" type="matrix" values="0 0 0 0 0 0 0 0 0 0 0 0 0 0 0 1.5 1.5 0 0 -1.000" result="na"/>

<feComposite in="b" in2="na" operator="arithmetic" k1="0" k2="1.0" k3="-1" k4="0" result="d"/>
<feColorMatrix in="d" type="matrix" values="0 0 0 0 0 0 0 0 0 0 0 0 0 0 0 0 0 0 3 0" result="m"/>
<feFlood flood-color="#1fbf9f" result="c"/>
<feComposite in="c" in2="m" operator="in"/>
<feGaussianBlur stdDeviation="0.55"/>
</filter><filter id="f30" filterUnits="userSpaceOnUse" x="1130" y="0" width="723" height="470" color-interpolation-filters="sRGB">
<feGaussianBlur in="SourceAlpha" stdDeviation="4" result="b1"/><feGaussianBlur in="SourceAlpha" stdDeviation="10" result="b2"/><feComposite in="b1" in2="b2" operator="arithmetic" k1="0" k2="0.60" k3="0.40" k4="0" result="b"/>
<feTurbulence type="fractalNoise" baseFrequency="0.83 0.71" numOctaves="2" seed="46" result="n"/>
<feColorMatrix in="n" type="matrix" values="0 0 0 0 0 0 0 0 0 0 0 0 0 0 0 1.5 1.5 0 0 -1.000" result="na"/>

<feComposite in="b" in2="na" operator="arithmetic" k1="0" k2="1.0" k3="-1" k4="0" result="d"/>
<feColorMatrix in="d" type="matrix" values="0 0 0 0 0 0 0 0 0 0 0 0 0 0 0 0 0 0 3 0" result="m"/>
<feFlood flood-color="#7ae0f4" result="c"/>
<feComposite in="c" in2="m" operator="in"/>
<feGaussianBlur stdDeviation="0.55"/>
</filter><filter id="f31" filterUnits="userSpaceOnUse" x="1130" y="0" width="723" height="470" color-interpolation-filters="sRGB">
<feGaussianBlur in="SourceAlpha" stdDeviation="1.5" result="b"/>
<feTurbulence type="fractalNoise" baseFrequency="0.83 0.71" numOctaves="2" seed="40" result="n"/>
<feColorMatrix in="n" type="matrix" values="0 0 0 0 0 0 0 0 0 0 0 0 0 0 0 1.5 1.5 0 0 -1.000" result="na"/>

<feComposite in="b" in2="na" operator="arithmetic" k1="0" k2="1.0" k3="-1" k4="0" result="d"/>
<feColorMatrix in="d" type="matrix" values="0 0 0 0 0 0 0 0 0 0 0 0 0 0 0 0 0 0 4 0" result="m"/>
<feFlood flood-color="#b02868" result="c"/>
<feComposite in="c" in2="m" operator="in"/>
<feGaussianBlur stdDeviation="0.45"/>
</filter><filter id="f32" filterUnits="userSpaceOnUse" x="1130" y="0" width="723" height="470" color-interpolation-filters="sRGB">
<feGaussianBlur in="SourceAlpha" stdDeviation="1.5" result="b"/>
<feTurbulence type="fractalNoise" baseFrequency="0.83 0.71" numOctaves="2" seed="41" result="n"/>
<feColorMatrix in="n" type="matrix" values="0 0 0 0 0 0 0 0 0 0 0 0 0 0 0 1.5 1.5 0 0 -1.000" result="na"/>

<feComposite in="b" in2="na" operator="arithmetic" k1="0" k2="1.0" k3="-1" k4="0" result="d"/>
<feColorMatrix in="d" type="matrix" values="0 0 0 0 0 0 0 0 0 0 0 0 0 0 0 0 0 0 4 0" result="m"/>
<feFlood flood-color="#7a3ab0" result="c"/>
<feComposite in="c" in2="m" operator="in"/>
<feGaussianBlur stdDeviation="0.45"/>
</filter></defs>
</svg>
</body></html>
